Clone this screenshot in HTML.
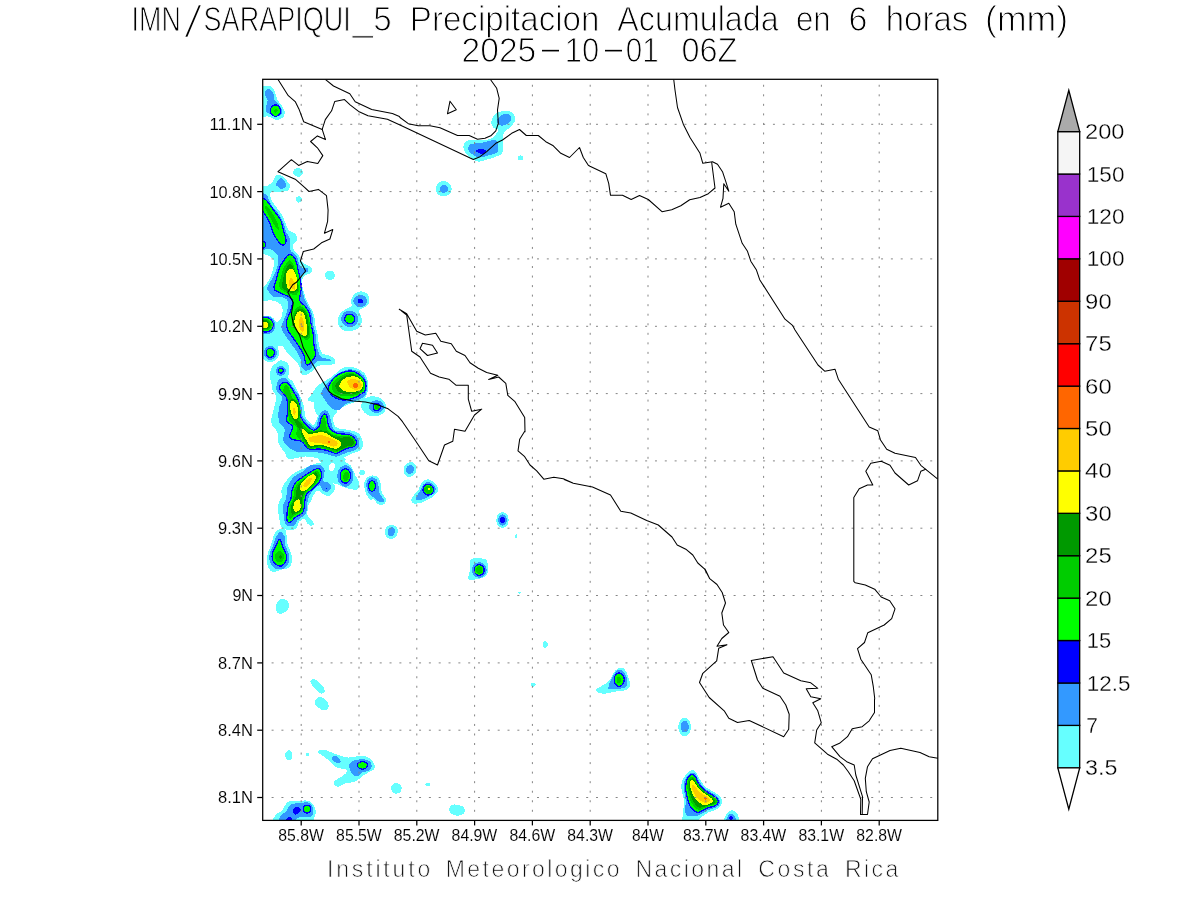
<!DOCTYPE html>
<html lang="es"><head><meta charset="utf-8">
<title>IMN/SARAPIQUI_5 Precipitacion Acumulada en 6 horas (mm)</title>
<style>
html,body{margin:0;padding:0;background:#fff;}
body{width:1200px;height:900px;overflow:hidden;}
svg{display:block;}
text{font-family:"Liberation Sans",sans-serif;fill:#000;}
.ttl{font-size:35px;stroke:#fff;stroke-width:1.05px;}
.ax{font-size:16.4px;stroke:#fff;stroke-width:.1px;}
.cb{font-size:21.2px;stroke:#fff;stroke-width:.3px;}
.ft{font-size:23px;fill:#111;stroke:#fff;stroke-width:.75px;}
.coast{fill:none;stroke:#000;stroke-width:1.05;stroke-linejoin:round;stroke-linecap:round;}
.grid{fill:none;stroke:#858585;stroke-width:1;}.gh{stroke-dasharray:2 7.83;}.gv{stroke-dasharray:2 7.54;}
.tick{stroke:#000;stroke-width:1.25;}
</style></head><body>
<svg width="1200" height="900" viewBox="0 0 1200 900">
<rect width="1200" height="900" fill="#fff"/>
<defs><clipPath id="fr"><rect x="262.7" y="79.3" width="675.0999999999999" height="741.1"/></clipPath></defs>
<g clip-path="url(#fr)" shape-rendering="crispEdges">
<g fill="#66ffff">
<path d="M261.9 86.3C265.2 86.2 265.9 85.9 267.6 86C269.2 86.2 270.7 85.8 271.9 86.9C273.2 88 274.2 90.6 275.1 92.6C275.9 94.6 275.9 96.8 277 98.8C278 100.9 280.1 103 281.4 105.1C282.6 107.2 284.1 109.5 284.5 111.4C284.9 113.3 284.6 115.1 283.9 116.4C283.1 117.7 281.5 118.7 280.1 119.2C278.7 119.7 277.2 119.8 275.7 119.6C274.2 119.3 272.7 118.2 271.3 117.7C270 117.2 269.1 116.5 267.6 116.4C266 116.3 265.2 116.8 261.9 117.1C258.6 117.3 250.2 123 247.9 118C245.6 112.9 245.6 92 247.9 86.7C250.2 81.4 258.6 86.4 261.9 86.3Z"/>
<path d="M302.8 172.3C302.8 173.1 302.5 174.2 301.9 174.9C301.4 175.6 300.4 176.2 299.5 176.5C298.6 176.7 297.5 176.7 296.6 176.5C295.7 176.2 294.7 175.6 294.2 174.9C293.6 174.2 293.3 173.1 293.3 172.3C293.3 171.4 293.6 170.4 294.2 169.7C294.7 169 295.7 168.4 296.6 168.1C297.5 167.8 298.6 167.8 299.5 168.1C300.4 168.4 301.4 169 301.9 169.7C302.5 170.4 302.8 171.4 302.8 172.3Z"/>
<path d="M302.1 199.5C302.1 200.1 301.8 200.8 301.5 201.3C301.1 201.8 300.5 202.3 299.9 202.4C299.3 202.6 298.5 202.6 298 202.4C297.4 202.3 296.8 201.8 296.4 201.3C296 200.8 295.8 200.1 295.8 199.5C295.8 198.8 296 198.1 296.4 197.6C296.8 197.1 297.4 196.7 298 196.5C298.5 196.3 299.3 196.3 299.9 196.5C300.5 196.7 301.1 197.1 301.5 197.6C301.8 198.1 302.1 198.8 302.1 199.5Z"/>
<path d="M335 275.4C335 276.3 334.6 277.4 334 278.1C333.4 278.9 332.4 279.5 331.5 279.8C330.6 280.1 329.3 280.1 328.4 279.8C327.5 279.5 326.5 278.9 325.9 278.1C325.3 277.4 324.9 276.3 324.9 275.4C324.9 274.5 325.3 273.4 325.9 272.7C326.5 271.9 327.5 271.3 328.4 271C329.3 270.7 330.6 270.7 331.5 271C332.4 271.3 333.4 271.9 334 272.7C334.6 273.4 335 274.5 335 275.4Z"/>
<path d="M261.9 185.5C265.2 185.5 265.8 186.1 267.6 185.5C269.3 184.8 271.3 183.2 272.6 181.7C273.8 180.2 274 177.8 275.1 176.7C276.1 175.5 277.4 174.7 278.8 174.8C280.3 174.9 282.3 175.9 283.9 177.3C285.4 178.7 287.3 181.7 288.3 182.9C289.3 184.2 289.8 183.9 289.9 185C290 186.2 289.9 188.7 288.9 189.8C287.9 190.9 286.7 191.2 283.9 191.5C281 191.9 274.2 191.1 271.9 191.9C269.6 192.7 269.7 194.3 270.1 196.3C270.4 198.3 271.9 200.9 273.8 203.8C275.7 206.8 279.4 210.5 281.4 213.9C283.3 217.2 284.5 221.2 285.8 223.9C287 226.7 287.5 228.7 288.9 230.2C290.3 231.7 292.6 231.7 293.9 232.7C295.3 233.8 296.6 235 297.1 236.5C297.5 237.9 297.2 240 296.4 241.5C295.7 243 293.1 243.8 292.7 245.3C292.2 246.7 292.9 248.6 293.9 250.3C295 252 297.8 253.6 298.9 255.3C300.1 257 299.8 258.9 300.8 260.3C301.9 261.8 303.6 263.1 305.2 264.1C306.8 265.1 309.1 265.7 310.2 266.6C311.4 267.6 312.1 268.6 312.1 269.7C312.1 270.9 311.4 272.6 310.2 273.5C309.1 274.5 306.6 274.2 305.2 275.4C303.8 276.5 302.1 278.1 301.7 280.4C301.3 282.7 302.5 287.2 302.9 289.2C303.4 291.2 303.7 290.9 304.2 292.5C304.7 294.1 305 296.7 305.8 298.8C306.6 300.9 307.6 302.5 309 305.1C310.3 307.7 312.9 311.2 314 314.5C315 317.8 314.6 321.7 315.3 325.2C315.9 328.6 317.1 331.9 317.8 335.2C318.4 338.6 318.3 342.2 319 345.3C319.7 348.3 320.5 351.7 322.2 353.4C323.8 355.1 327 354.4 329.1 355.3C331.2 356.2 333.9 357.6 334.7 359.1C335.5 360.5 335.6 363.1 334.1 364.1C332.5 365 328 364.4 325.3 364.7C322.6 365 320.1 364.8 317.8 366C315.5 367.1 313.6 370 311.5 371.6C309.4 373.2 307.1 375.2 305.2 375.4C303.4 375.6 301.5 374.5 300.4 372.9C299.4 371.2 300.2 367.8 298.9 365.3C297.6 362.8 294.7 360.1 292.7 357.8C290.6 355.5 288.7 354.2 286.4 351.5C284.1 348.8 281.6 343.8 278.8 341.5C276.1 339.2 272.9 338.8 270.1 337.7C267.2 336.7 265.6 336.1 261.9 335.2C258.2 334.4 250.2 357.6 247.9 332.6C245.6 307.7 245.6 210 247.9 185.5C250.2 160.9 258.6 185.5 261.9 185.5Z"/>
<path d="M261.9 313.2C265.6 313.5 267.7 313.2 270.1 314.1C272.5 315.1 275 317.1 276.3 318.9C277.7 320.7 278.2 323 278.2 325.2C278.2 327.4 277.7 330.2 276.3 332.1C275 334 272.5 335.6 270.1 336.5C267.7 337.3 265.6 336.9 261.9 337.1C258.2 337.3 250.2 341.9 247.9 337.7C245.6 333.6 245.6 316.4 247.9 312.3C250.2 308.3 258.2 312.9 261.9 313.2Z"/>
<path d="M279.1 352.8C279.1 354.6 278.4 356.8 277.4 358.3C276.3 359.8 274.5 361.2 272.9 361.7C271.2 362.3 269 362.3 267.3 361.7C265.6 361.2 263.8 359.8 262.8 358.3C261.7 356.8 261 354.6 261 352.8C261 350.9 261.7 348.7 262.8 347.2C263.8 345.8 265.6 344.4 267.3 343.8C269 343.3 271.2 343.3 272.9 343.8C274.5 344.4 276.3 345.8 277.4 347.2C278.4 348.7 279.1 350.9 279.1 352.8Z"/>
<path d="M261.9 335.2C265.6 336.1 267.7 336.7 270.1 337.7C272.5 338.8 274.9 340.2 276.3 341.5C277.8 342.7 279.3 343.8 278.8 345.3C278.4 346.7 276.7 349.9 273.8 350.3C271 350.7 266.2 348.5 261.9 347.8C257.6 347 250.2 348.5 247.9 346C245.6 343.5 245.6 334.4 247.9 332.6C250.2 330.8 258.2 334.4 261.9 335.2Z"/>
<path d="M267.6 334.2C269.7 334.1 277.6 338.1 280.1 340C282.6 341.9 283.4 344.7 282.4 345.5C281.3 346.3 276.4 345.8 273.8 345C271.3 344.2 268 342.3 266.9 340.5C265.9 338.7 265.4 334.3 267.6 334.2Z"/>
<path d="M289.4 371.4C289.4 373.1 288.7 375.1 287.6 376.5C286.5 377.9 284.7 379.2 283 379.7C281.2 380.2 279 380.2 277.2 379.7C275.5 379.2 273.7 377.9 272.6 376.5C271.5 375.1 270.8 373.1 270.8 371.4C270.8 369.6 271.5 367.6 272.6 366.2C273.7 364.8 275.5 363.5 277.2 363C279 362.5 281.2 362.5 283 363C284.7 363.5 286.5 364.8 287.6 366.2C288.7 367.6 289.4 369.6 289.4 371.4Z"/>
<path d="M360.2 291.3C362.3 291.1 365.2 291.9 366.7 293.2C368.3 294.4 369.3 296.8 369.5 298.8C369.7 300.8 369.1 303.5 368 305.1C366.9 306.7 364.5 307.3 362.9 308.2C361.4 309.2 358.9 309.4 358.6 310.7C358.2 312.1 360.5 314.4 361.1 316.4C361.6 318.4 362.2 320.7 361.7 322.7C361.2 324.6 359.8 326.9 357.9 328.3C356 329.7 352.9 330.9 350.4 331.2C347.9 331.5 344.9 331.2 342.9 330.2C340.9 329.2 339.3 327.2 338.5 325.2C337.6 323.2 337.3 320.5 337.8 318.3C338.4 316.1 339.9 313.7 341.6 312C343.3 310.3 346.2 309.3 347.9 308.2C349.6 307.2 351.1 307.1 351.7 305.7C352.2 304.4 350.6 301.9 351 300.1C351.4 298.2 352.6 295.9 354.2 294.4C355.7 292.9 358.1 291.5 360.2 291.3Z"/>
<path d="M309 398C310.5 396.5 314.2 388.8 317.8 385.4C321.3 382.1 326.1 380.8 330.3 377.9C334.5 375 339.1 369.6 342.9 367.8C346.6 366.1 349.4 366.4 352.9 367.2C356.5 368.1 361.7 370.3 364.2 372.9C366.7 375.5 367.4 379.8 368 382.9C368.5 386 368 389.3 367.6 391.7C367.2 394.1 366.4 395.9 365.5 397.5C364.5 399.1 363.4 400.6 361.7 401.3C360 402 358.1 401.2 355.4 401.9C352.7 402.7 348.5 404.4 345.4 405.7C342.2 406.9 339.1 409 336.6 409.5C334.1 409.9 332.2 408.5 330.3 408.2C328.4 407.9 326.4 407.6 325.3 407.6C324.1 407.5 324.5 407.9 323.4 407.9C322.4 407.9 320 408.5 319 407.6C318.1 406.7 319.5 403.7 317.8 402.6C316 401.4 309.9 402 308.3 400.7C306.8 399.3 308.6 394.8 308.7 394.4C308.8 393.9 307.5 399.5 309 398Z"/>
<path d="M315 400C318.1 398.2 331.4 401.1 335 403.3C338.6 405.6 337.9 411.1 336.7 413.3C335.4 415.6 330.8 416.5 327.5 416.7C324.2 416.8 318.8 416.9 316.7 414.2C314.6 411.4 311.9 401.8 315 400Z"/>
<path d="M386 408.2C385.7 410.1 384.4 412.3 382.8 413.7C381.1 415 378.4 416.1 376 416.3C373.6 416.6 370.6 416.1 368.4 415.2C366.1 414.2 363.9 412.4 362.7 410.6C361.5 408.8 360.9 406.4 361.2 404.4C361.5 402.5 362.8 400.3 364.5 399C366.1 397.6 368.8 396.5 371.2 396.3C373.6 396 376.7 396.5 378.9 397.5C381.1 398.4 383.4 400.2 384.5 402C385.7 403.8 386.3 406.2 386 408.2Z"/>
<path d="M280.7 360.3C283.1 360 286.4 361.6 287.9 363.5C289.4 365.3 289.5 369.3 289.5 371.6C289.5 373.9 287.4 375.6 287.9 377.3C288.4 378.9 291.1 379.6 292.7 381.7C294.2 383.7 295.7 387.2 297.1 389.8C298.4 392.5 299.7 394.8 300.8 397.5C302 400.3 303.2 403.1 304 406.3C304.7 409.6 304.4 414.5 305.2 417C306 419.5 307.7 420 309 421.4C310.2 422.7 311.5 425.4 312.7 425.1C314 424.9 315.5 422.4 316.5 420.1C317.6 417.8 318 413.3 319 411.3C320.1 409.4 321.3 408.8 322.8 408.2C324.2 407.6 326.1 407.5 327.8 407.6C329.5 407.7 331.6 408 332.8 408.8C334.1 409.7 335.3 410.9 335.3 412.6C335.3 414.3 332.8 416.6 332.8 418.9C332.8 421.2 334.1 424.7 335.3 426.4C336.6 428.1 337.8 428.3 340.4 428.9C342.9 429.5 347.3 429.3 350.4 430.2C353.5 431 357.1 431.8 359.2 433.9C361.3 436 362.7 440 362.9 442.7C363.2 445.4 362.9 448.2 360.4 450.3C357.9 452.3 350.8 453.6 347.9 455.3C345 456.9 342.4 458.6 342.9 460.3C343.3 462 348.3 462.8 350.4 465.3C352.5 467.8 354 472.4 355.4 475.4C356.9 478.3 358.8 480.6 359.2 482.9C359.6 485.2 359.4 488.1 357.9 489.2C356.5 490.2 352.9 489.6 350.4 489.2C347.9 488.7 345.2 487.7 342.9 486.7C340.6 485.6 337.8 485.6 336.6 482.9C335.3 480.2 336.4 473.7 335.3 470.3C334.3 467 332.8 464.5 330.3 462.8C327.8 461.1 322.4 461 320.3 460.3C318.2 459.6 320.3 459 317.8 458.4C315.3 457.8 310 456.4 305.2 456.5C300.4 456.6 292.2 459.7 288.9 459C285.5 458.4 286.8 455.3 285.1 452.8C283.5 450.3 280.1 447.3 278.8 444C277.6 440.6 278.8 436.2 277.6 432.7C276.3 429.1 271.9 426.6 271.3 422.6C270.7 418.7 273 413 273.8 408.8C274.7 404.6 276.5 400.7 276.3 397.5C276.1 394.4 273.3 392 272.6 390C271.8 388 272.4 387.4 271.9 385.4C271.5 383.4 270.4 380.2 270.1 377.9C269.7 375.6 269.4 373.7 270.1 371.6C270.7 369.5 272.1 367.2 273.8 365.3C275.6 363.5 278.4 360.6 280.7 360.3Z"/>
<path d="M314 464.1C316.9 463.2 320.5 462 322.8 462.8C325.1 463.6 327 466.6 327.8 469.1C328.6 471.6 327 475.6 327.8 477.9C328.6 480.2 331.6 481.2 332.8 482.9C334.1 484.6 335.8 485.8 335.3 487.9C334.9 490 332.4 494.4 330.3 495.4C328.2 496.5 324.9 495 322.8 494.2C320.7 493.3 319.4 490 317.8 490.4C316.1 490.8 314 494.6 312.7 496.7C311.5 498.8 310.9 501.8 310.2 503C309.6 504.2 309.4 502.8 309 503.8C308.6 504.8 307.9 506.7 307.7 508.8C307.5 510.9 307.1 514.5 307.7 516.3C308.3 518.2 310.4 518.8 311.5 520.1C312.5 521.4 314 522.9 314 523.9C314 524.8 312.5 525.8 311.5 525.8C310.4 525.8 308.9 525 307.7 523.9C306.6 522.7 306 519.2 304.6 518.8C303.1 518.5 300.4 520.3 298.9 522C297.5 523.7 297.9 527.6 295.8 528.9C293.7 530.1 288.7 529.7 286.4 529.5C284.1 529.3 283 528.6 282 527.6C280.9 526.7 280.6 526 280.1 523.9C279.6 521.8 279.3 517.8 278.8 515.1C278.4 512.4 277.4 510.1 277.6 507.6C277.8 505 279.4 501.8 280.1 500C280.8 498.2 281.8 498.3 282 496.7C282.2 495.1 281 492.5 281.4 490.4C281.7 488.3 282 486.9 283.9 484.1C285.8 481.4 289.1 476.8 292.7 474.1C296.2 471.4 301.7 469.5 305.2 467.8C308.8 466.2 311.1 464.9 314 464.1Z"/>
<path d="M320 457.5C323.8 456.8 338.8 456.8 343 457.5C347.2 458.2 345.5 460.2 345 461.5C344.5 462.8 341.2 463.6 340 465C338.8 466.4 338 467.9 337.5 470C337 472.1 336.6 475.3 337 477.5C337.4 479.7 340.2 481.8 340 483C339.8 484.2 337.2 484.5 336 484.5C334.8 484.5 334.2 483.4 333 483C331.8 482.6 330.3 482.3 329 482C327.7 481.7 325.8 482.5 325 481C324.2 479.5 324.2 475.4 324 473C323.8 470.6 324.7 468.4 324 466.5C323.3 464.6 320.7 463 320 461.5C319.3 460 316.2 458.2 320 457.5Z"/>
<path d="M364.8 472.6C364.8 473.1 364.6 473.8 364.3 474.2C364 474.7 363.4 475.1 362.9 475.2C362.4 475.4 361.7 475.4 361.2 475.2C360.7 475.1 360.2 474.7 359.8 474.2C359.5 473.8 359.3 473.1 359.3 472.6C359.3 472.1 359.5 471.4 359.8 471C360.2 470.5 360.7 470.1 361.2 470C361.7 469.8 362.4 469.8 362.9 470C363.4 470.1 364 470.5 364.3 471C364.6 471.4 364.8 472.1 364.8 472.6Z"/>
<path d="M364.2 485.4C364.1 482.6 364.7 480.2 366.1 478.5C367.4 476.8 370.3 475.5 372.4 475.4C374.5 475.3 377.2 476 378.6 477.9C380.1 479.7 380.6 484.1 381.2 486.7C381.7 489.2 380.8 490.8 381.8 492.9C382.7 495 386 498.2 386.8 499.2C387.6 500.2 387.2 498 386.8 498.8C386.4 499.5 385.6 502.8 384.3 503.8C382.9 504.7 380.5 505.3 378.6 504.4C376.8 503.6 374.1 499.4 373 498.8C371.8 498.1 372.8 501 371.7 500.5C370.7 499.9 368 497.9 366.7 495.4C365.5 492.9 364.3 488.2 364.2 485.4Z"/>
<path d="M277 530.1C278.6 529.1 282.3 528.5 283.9 528.9C285.4 529.3 285.9 530.4 286.4 532.7C286.9 535 286.2 539.1 287 542.7C287.8 546.3 290.6 550.9 291.4 554C292.2 557.1 292.4 559.2 292 561.5C291.6 563.8 290.7 566.4 288.9 567.8C287.1 569.2 283.7 569 281.4 569.7C279.1 570.4 277 571.7 275.1 571.8C273.2 571.9 271.4 571.8 270.1 570.3C268.7 568.8 267.3 565.5 266.9 562.8C266.5 560.1 266.8 557.1 267.6 554C268.3 550.9 270.3 547.1 271.3 544C272.4 540.8 272.9 537.5 273.8 535.2C274.8 532.9 275.3 531.2 277 530.1Z"/>
<path d="M329.7 495C329.7 495.3 329.5 495.6 329.3 495.9C329.1 496.1 328.7 496.3 328.4 496.4C328 496.5 327.6 496.5 327.2 496.4C326.9 496.3 326.5 496.1 326.3 495.9C326.1 495.6 325.9 495.3 325.9 495C325.9 494.7 326.1 494.4 326.3 494.1C326.5 493.9 326.9 493.7 327.2 493.6C327.6 493.5 328 493.5 328.4 493.6C328.7 493.7 329.1 493.9 329.3 494.1C329.5 494.4 329.7 494.7 329.7 495Z"/>
<path d="M397.5 532C397.5 533.4 397 535 396.3 536.1C395.5 537.2 394.3 538.2 393.1 538.6C392 539 390.4 539 389.3 538.6C388.1 538.2 386.8 537.2 386.1 536.1C385.4 535 384.9 533.4 384.9 532C384.9 530.7 385.4 529.1 386.1 528C386.8 526.9 388.1 525.9 389.3 525.5C390.4 525 392 525 393.1 525.5C394.3 525.9 395.5 526.9 396.3 528C397 529.1 397.5 530.7 397.5 532Z"/>
<path d="M288.9 605.5C288.9 606.7 288.4 608.3 287.7 609.3C287 610.3 285.7 611.3 284.6 611.7C283.4 612.1 281.8 612.1 280.7 611.7C279.5 611.3 278.3 610.3 277.5 609.3C276.8 608.3 276.3 606.7 276.3 605.5C276.3 604.2 276.8 602.7 277.5 601.6C278.3 600.6 279.5 599.6 280.7 599.3C281.8 598.9 283.4 598.9 284.6 599.3C285.7 599.6 287 600.6 287.7 601.6C288.4 602.7 288.9 604.2 288.9 605.5Z"/>
<path d="M491.3 123.3C491.2 121.3 491.9 117.8 493.3 115.8C494.8 113.9 497.5 112.5 500 111.7C502.5 110.8 506 110.3 508.3 110.8C510.7 111.4 513.1 113.3 514.2 115C515.3 116.7 515.6 118.9 515 120.8C514.4 122.8 512.6 124.7 510.8 126.7C509 128.6 505.4 130.3 504.2 132.5C502.9 134.7 503.6 136.8 503.3 140C503.1 143.2 503.3 149 502.5 151.7C501.7 154.3 500.7 154.6 498.3 155.8C496 157.1 491.7 158.2 488.3 159.2C485 160.1 481.1 161.8 478.3 161.7C475.6 161.5 473.8 159.7 471.7 158.3C469.6 156.9 467.2 155.3 465.8 153.3C464.4 151.4 463.2 148.8 463.3 146.7C463.5 144.6 464.4 141.9 466.7 140.8C468.9 139.7 472.8 140.3 476.7 140C480.6 139.7 486.8 140.1 490 139.2C493.2 138.2 494.4 135.7 495.8 134.2C497.2 132.6 498.6 131 498.3 130C498.1 129 495.3 129.4 494.2 128.3C493 127.2 491.5 125.4 491.3 123.3Z"/>
<path d="M523.3 157.8C523.3 158.3 523.1 158.9 522.8 159.3C522.5 159.7 521.9 160.1 521.4 160.2C520.8 160.4 520.2 160.4 519.6 160.2C519.1 160.1 518.5 159.7 518.2 159.3C517.9 158.9 517.7 158.3 517.7 157.8C517.7 157.3 517.9 156.8 518.2 156.4C518.5 156 519.1 155.6 519.6 155.5C520.2 155.3 520.8 155.3 521.4 155.5C521.9 155.6 522.5 156 522.8 156.4C523.1 156.8 523.3 157.3 523.3 157.8Z"/>
<path d="M451.7 188.8C451.7 190.3 451.1 192.1 450.1 193.3C449.2 194.6 447.6 195.7 446.1 196.1C444.6 196.6 442.7 196.6 441.2 196.1C439.7 195.7 438.1 194.6 437.2 193.3C436.3 192.1 435.7 190.3 435.7 188.8C435.7 187.3 436.3 185.5 437.2 184.3C438.1 183.1 439.7 182 441.2 181.5C442.7 181.1 444.6 181.1 446.1 181.5C447.6 182 449.2 183.1 450.1 184.3C451.1 185.5 451.7 187.3 451.7 188.8Z"/>
<path d="M282.5 599.2C284.4 599.3 287.6 603.9 288.3 605.8C289 607.8 288.1 609.5 286.7 610.8C285.3 612.2 281.8 613.8 280 613.8C278.2 613.8 276.7 612.3 276.2 610.8C275.6 609.4 275.6 606.9 276.7 605C277.7 603.1 280.6 599 282.5 599.2Z"/>
<path d="M312.5 679.2C313.7 679 315.6 679.3 317.5 680.8C319.4 682.4 323.1 686.4 324.2 688.3C325.3 690.3 324.9 691.7 324.2 692.5C323.5 693.3 321.8 694.3 320 693.3C318.2 692.4 314.9 688.6 313.3 686.7C311.7 684.7 310.5 682.9 310.3 681.7C310.2 680.4 311.3 679.3 312.5 679.2Z"/>
<path d="M317.5 697.5C318.8 696.8 320.7 696.5 322.5 697.5C324.3 698.5 327.5 701.4 328.3 703.3C329.2 705.3 328.6 708.1 327.5 709.2C326.4 710.2 323.6 710.4 321.7 709.7C319.7 709 317 706.3 315.8 705C314.7 703.7 314.4 702.9 314.7 701.7C314.9 700.4 316.2 698.2 317.5 697.5Z"/>
<path d="M275 823.3C269.3 821.9 274.7 817.1 275.8 815C276.9 812.9 279.6 813.1 281.7 810.8C283.8 808.6 285.6 803.3 288.3 801.7C291.1 800 295 801 298.3 800.8C301.7 800.7 305.8 800.1 308.3 800.8C310.8 801.5 312.1 803.2 313.3 805C314.6 806.8 315.7 809.6 315.8 811.7C316 813.8 315.1 815.6 314.2 817.5C313.2 819.4 316.5 822.4 310 823.3C303.5 824.3 280.7 824.7 275 823.3Z"/>
<path d="M292.5 755.3C292.5 756.3 292.2 757.5 291.8 758.3C291.4 759.1 290.6 759.8 290 760.1C289.3 760.4 288.4 760.4 287.7 760.1C287 759.8 286.3 759.1 285.9 758.3C285.4 757.5 285.2 756.3 285.2 755.3C285.2 754.4 285.4 753.2 285.9 752.4C286.3 751.6 287 750.9 287.7 750.6C288.4 750.3 289.3 750.3 290 750.6C290.6 750.9 291.4 751.6 291.8 752.4C292.2 753.2 292.5 754.4 292.5 755.3Z"/>
<path d="M309.3 754.2C309.3 754.5 309.2 754.9 309 755.1C308.8 755.4 308.4 755.7 308.1 755.8C307.7 755.9 307.3 755.9 306.9 755.8C306.6 755.7 306.2 755.4 306 755.1C305.8 754.9 305.7 754.5 305.7 754.2C305.7 753.8 305.8 753.5 306 753.2C306.2 752.9 306.6 752.7 306.9 752.6C307.3 752.5 307.7 752.5 308.1 752.6C308.4 752.7 308.8 752.9 309 753.2C309.2 753.5 309.3 753.8 309.3 754.2Z"/>
<path d="M319.2 750C320.3 749.6 321.8 749.2 325 750C328.2 750.8 334.4 753.8 338.3 755C342.2 756.2 344.4 757.4 348.3 757.5C352.2 757.6 358.1 755.7 361.7 755.8C365.3 756 367.9 756.9 370 758.3C372.1 759.7 373.5 762.4 374.2 764.2C374.9 766 375.1 767.8 374.2 769.2C373.2 770.6 370.4 771.2 368.3 772.5C366.2 773.8 363.9 775.1 361.7 776.7C359.4 778.2 357.8 780.6 355 781.7C352.2 782.8 347.8 782.5 345 783.3C342.2 784.2 340.1 786.4 338.3 786.7C336.6 786.9 335.3 786 334.7 785C334.1 784 333.8 782.1 334.7 780.8C335.6 779.6 338.1 778.8 340 777.5C341.9 776.2 344.9 774.7 345.8 773.3C346.8 771.9 347.4 770.1 345.8 769.2C344.3 768.2 339.6 769 336.7 767.5C333.8 766 330.8 762.1 328.3 760C325.8 757.9 323.3 756.2 321.7 755C320 753.8 318.8 753.3 318.3 752.5C317.9 751.7 318.1 750.4 319.2 750Z"/>
<path d="M401.7 788.3C401.7 789.4 401.3 790.6 400.6 791.5C400 792.3 399 793.1 398 793.4C397 793.7 395.7 793.7 394.7 793.4C393.7 793.1 392.6 792.3 392 791.5C391.4 790.6 391 789.4 391 788.3C391 787.3 391.4 786 392 785.2C392.6 784.4 393.7 783.6 394.7 783.3C395.7 782.9 397 782.9 398 783.3C399 783.6 400 784.4 400.6 785.2C401.3 786 401.7 787.3 401.7 788.3Z"/>
<path d="M430.3 784.7C430.3 785 430.1 785.4 429.9 785.6C429.6 785.9 429.1 786.2 428.6 786.3C428.1 786.4 427.5 786.4 427.1 786.3C426.6 786.2 426.1 785.9 425.8 785.6C425.5 785.4 425.3 785 425.3 784.7C425.3 784.3 425.5 784 425.8 783.7C426.1 783.4 426.6 783.2 427.1 783.1C427.5 783 428.1 783 428.6 783.1C429.1 783.2 429.6 783.4 429.9 783.7C430.1 784 430.3 784.3 430.3 784.7Z"/>
<path d="M459.2 809.5C459.2 810.5 458.8 811.6 458.2 812.4C457.6 813.2 456.6 814 455.7 814.3C454.8 814.6 453.6 814.6 452.6 814.3C451.7 814 450.7 813.2 450.1 812.4C449.5 811.6 449.2 810.5 449.2 809.5C449.2 808.5 449.5 807.4 450.1 806.6C450.7 805.8 451.7 805 452.6 804.7C453.6 804.4 454.8 804.4 455.7 804.7C456.6 805 457.6 805.8 458.2 806.6C458.8 807.4 459.2 808.5 459.2 809.5Z"/>
<path d="M465 810.3C465 811.4 464.4 812.6 463.6 813.5C462.7 814.3 461.2 815.1 459.8 815.4C458.4 815.7 456.6 815.7 455.2 815.4C453.8 815.1 452.3 814.3 451.4 813.5C450.6 812.6 450 811.4 450 810.3C450 809.3 450.6 808 451.4 807.2C452.3 806.4 453.8 805.6 455.2 805.3C456.6 804.9 458.4 804.9 459.8 805.3C461.2 805.6 462.7 806.4 463.6 807.2C464.4 808 465 809.3 465 810.3Z"/>
<path d="M416.1 471.4C415.6 472.8 414.6 474.3 413.6 475.2C412.5 476.1 411 476.8 409.8 476.9C408.5 477 407 476.5 406 475.7C405 475 404.1 473.5 403.8 472.2C403.5 470.8 403.5 469 403.9 467.6C404.4 466.2 405.4 464.7 406.4 463.8C407.5 462.9 409 462.2 410.2 462.1C411.5 462 413 462.5 414 463.3C415 464 415.9 465.5 416.2 466.8C416.5 468.2 416.5 470 416.1 471.4Z"/>
<path d="M428.3 479.2C430.8 479.6 435.1 482.9 436.7 485C438.2 487.1 438.3 489.6 437.5 491.7C436.7 493.8 434.3 495.7 431.7 497.5C429 499.3 424.7 501.5 421.7 502.5C418.6 503.5 415 504 413.3 503.3C411.7 502.6 410.8 500.6 411.7 498.3C412.5 496.1 416.7 492.6 418.3 490C420 487.4 420 484.3 421.7 482.5C423.3 480.7 425.8 478.8 428.3 479.2Z"/>
<path d="M397.2 534.1C396.6 535.4 395.6 536.7 394.5 537.5C393.3 538.2 391.8 538.6 390.5 538.6C389.3 538.5 387.9 537.9 386.9 537C386 536.2 385.3 534.8 385 533.5C384.8 532.2 385 530.5 385.5 529.2C386 527.9 387.1 526.6 388.2 525.9C389.3 525.1 390.9 524.7 392.1 524.8C393.4 524.8 394.8 525.4 395.7 526.3C396.7 527.1 397.4 528.6 397.7 529.9C397.9 531.2 397.7 532.9 397.2 534.1Z"/>
<path d="M508.7 520C508.7 521.5 508.2 523.4 507.5 524.6C506.8 525.8 505.6 527 504.4 527.4C503.3 527.9 501.7 527.9 500.6 527.4C499.4 527 498.2 525.8 497.5 524.6C496.8 523.4 496.3 521.5 496.3 520C496.3 518.5 496.8 516.6 497.5 515.4C498.2 514.2 499.4 513 500.6 512.6C501.7 512.1 503.3 512.1 504.4 512.6C505.6 513 506.8 514.2 507.5 515.4C508.2 516.6 508.7 518.5 508.7 520Z"/>
<path d="M517.3 536.2C517.3 536.6 517.2 537 517.1 537.3C517 537.7 516.7 537.9 516.5 538.1C516.3 538.2 516 538.2 515.8 538.1C515.6 537.9 515.4 537.7 515.2 537.3C515.1 537 515 536.6 515 536.2C515 535.8 515.1 535.3 515.2 535C515.4 534.7 515.6 534.4 515.8 534.3C516 534.1 516.3 534.1 516.5 534.3C516.7 534.4 517 534.7 517.1 535C517.2 535.3 517.3 535.8 517.3 536.2Z"/>
<path d="M470.8 559.2C473.3 557.4 482.2 558.2 485 559.2C487.8 560.1 487.4 562.6 487.8 565C488.2 567.4 488.2 571.2 487.5 573.3C486.8 575.4 485.7 576.4 483.3 577.5C481 578.6 475.8 579.5 473.3 579.7C470.8 579.9 468.9 580.3 468.3 578.7C467.8 577.1 469.6 573.2 470 570C470.4 566.8 468.3 561 470.8 559.2Z"/>
<path d="M520.7 592.8C520.7 593 520.6 593.2 520.4 593.3C520.3 593.5 520.1 593.6 519.9 593.6C519.6 593.7 519.4 593.7 519.1 593.6C518.9 593.6 518.7 593.5 518.6 593.3C518.4 593.2 518.3 593 518.3 592.8C518.3 592.7 518.4 592.5 518.6 592.3C518.7 592.2 518.9 592.1 519.1 592C519.4 592 519.6 592 519.9 592C520.1 592.1 520.3 592.2 520.4 592.3C520.6 592.5 520.7 592.7 520.7 592.8Z"/>
<path d="M547.7 644.5C547.7 645.2 547.5 645.9 547.2 646.5C547 647 546.5 647.5 546.1 647.7C545.6 647.9 545 647.9 544.6 647.7C544.2 647.5 543.7 647 543.4 646.5C543.2 645.9 543 645.2 543 644.5C543 643.8 543.2 643.1 543.4 642.5C543.7 642 544.2 641.5 544.6 641.3C545 641.1 545.6 641.1 546.1 641.3C546.5 641.5 547 642 547.2 642.5C547.5 643.1 547.7 643.8 547.7 644.5Z"/>
<path d="M535.7 684.7C535.7 685.1 535.5 685.5 535.2 685.8C535 686.2 534.5 686.4 534.1 686.6C533.6 686.7 533 686.7 532.6 686.6C532.2 686.4 531.7 686.2 531.4 685.8C531.2 685.5 531 685.1 531 684.7C531 684.3 531.2 683.8 531.4 683.5C531.7 683.2 532.2 682.9 532.6 682.8C533 682.6 533.6 682.6 534.1 682.8C534.5 682.9 535 683.2 535.2 683.5C535.5 683.8 535.7 684.3 535.7 684.7Z"/>
<path d="M596.3 689.2C597.3 687.9 601.1 686.5 603.3 685C605.6 683.5 608.1 682.4 610 680C611.9 677.6 613.2 672.9 615 670.8C616.8 668.8 619 667.5 620.8 667.5C622.6 667.5 624.4 668.8 625.8 670.8C627.2 672.9 628.5 677.5 629.2 680C629.9 682.5 630.6 684.2 630 685.8C629.4 687.5 628.3 689 625.8 690C623.3 691 618.5 691.1 615 691.7C611.5 692.3 607.9 693.5 605 693.7C602.1 693.8 598.9 693.2 597.5 692.5C596.1 691.8 595.4 690.4 596.3 689.2Z"/>
<path d="M691 727C691 728.8 690.5 730.9 689.8 732.4C689.1 733.8 687.8 735.2 686.6 735.7C685.4 736.3 683.9 736.3 682.7 735.7C681.5 735.2 680.3 733.8 679.5 732.4C678.8 730.9 678.3 728.8 678.3 727C678.3 725.2 678.8 723.1 679.5 721.6C680.3 720.2 681.5 718.8 682.7 718.3C683.9 717.7 685.4 717.7 686.6 718.3C687.8 718.8 689.1 720.2 689.8 721.6C690.5 723.1 691 725.2 691 727Z"/>
<path d="M692.1 770.1C693.8 769.9 695.1 770.9 696.5 772.6C697.8 774.3 698.6 777.6 700.3 780.1C701.9 782.6 704 785.6 706.5 787.7C709 789.7 712.9 791 715.3 792.7C717.7 794.4 719.9 795.8 721 797.7C722 799.6 722.1 802.1 721.6 804C721.1 805.9 719.9 807.6 717.8 809C715.7 810.4 712 810.7 709 812.1C706.1 813.6 702.6 816.1 700.3 817.8C697.9 819.5 698.1 821.4 695.2 822.2C692.4 822.9 685.3 824.2 683.3 822.2C681.3 820.2 683.2 813.9 683.3 810.3C683.4 806.6 684.2 803.8 683.9 800.2C683.6 796.7 681.7 792.1 681.4 788.9C681.1 785.8 681.2 783.9 682.1 781.4C682.9 778.9 684.8 775.7 686.4 773.8C688.1 772 690.4 770.3 692.1 770.1Z"/>
<path d="M724.1 822.2C722.1 820.8 725.4 816 726.6 814C727.9 812 730 810.5 731.6 810.3C733.3 810 735.5 810.8 736.7 812.8C737.8 814.7 740.6 820.6 738.5 822.2C736.4 823.7 726.1 823.5 724.1 822.2Z"/>
<path d="M750.8 820.3C750.8 820.4 750.7 820.6 750.4 820.7C750.1 820.9 749.7 821 749.3 821C748.9 821.1 748.3 821.1 747.9 821C747.5 821 747 820.9 746.7 820.7C746.5 820.6 746.3 820.4 746.3 820.3C746.3 820.1 746.5 820 746.7 819.9C747 819.7 747.5 819.6 747.9 819.6C748.3 819.5 748.9 819.5 749.3 819.6C749.7 819.6 750.1 819.7 750.4 819.9C750.7 820 750.8 820.1 750.8 820.3Z"/>
</g>
<g fill="#ffffff">
<path d="M261.9 254.1C265.2 254.6 265.6 254.3 267.6 255.3C269.5 256.4 272.9 257.8 273.8 260.3C274.7 262.8 273.7 267 272.8 270.4C272 273.7 270.6 277.4 268.8 280.4C267 283.4 265.4 285.3 261.9 288.2C258.4 291.1 250.2 303.7 247.9 297.7C245.6 291.7 245.6 259.5 247.9 252.2C250.2 244.9 258.6 253.5 261.9 254.1Z"/>
<path d="M261.9 300.7C266.2 300.7 270.7 300.1 273.8 300.7C277 301.3 279.3 302.9 280.7 304.5C282.2 306 282.5 307.9 282.6 310.1C282.7 312.3 282.3 315.6 281.4 317.6C280.4 319.7 278.1 322.1 277 322.4C275.8 322.7 275.5 320.5 274.5 319.5C273.4 318.5 272.8 317 270.7 316.4C268.6 315.8 265.7 316 261.9 315.8C258.1 315.5 250.2 317.7 247.9 315.2C245.6 312.6 245.6 303.1 247.9 300.7C250.2 298.3 257.6 300.7 261.9 300.7Z"/>
<path d="M334.8 467.7C334.6 468.5 334.2 469.3 333.7 469.9C333.2 470.4 332.5 470.8 331.9 470.9C331.3 471 330.7 470.8 330.2 470.5C329.7 470.1 329.3 469.4 329.1 468.7C329 468 329 467 329.2 466.3C329.4 465.5 329.8 464.7 330.3 464.1C330.8 463.6 331.5 463.2 332.1 463.1C332.7 463 333.3 463.2 333.8 463.5C334.3 463.9 334.7 464.6 334.9 465.3C335 466 335 467 334.8 467.7Z"/>
</g>
<g fill="#3399ff">
<path d="M265 92.6C265.3 91.4 266.2 90 266.9 89.4C267.7 88.8 268.5 88.6 269.4 89.1C270.4 89.5 271.8 90.9 272.6 91.9C273.3 92.9 273.5 93.8 273.8 95.1C274.1 96.3 273.6 97.9 274.5 99.5C275.3 101 277.6 102.7 278.8 104.5C280.1 106.3 281.6 108.5 282 110.1C282.4 111.8 282.1 113.5 281.4 114.5C280.6 115.6 278.8 116.2 277.6 116.4C276.3 116.6 275.3 116.3 273.8 115.8C272.4 115.3 270.2 114 268.8 113.3C267.4 112.6 266.1 112.6 265.7 111.4C265.3 110.3 266 108.3 266.3 106.4C266.6 104.5 267.7 101.8 267.6 100.1C267.4 98.4 266.1 97.6 265.7 96.3C265.3 95.1 264.8 93.7 265 92.6Z"/>
<path d="M276.1 185.5C276 184.7 276.5 182.8 277 181.7C277.5 180.6 278.3 179.5 279.1 178.9C279.9 178.4 281 178.1 282 178.6C283 179 284.3 180.3 285.1 181.7C286 183.1 286.8 186.3 287 186.7C287.3 187.2 287 184.2 286.6 184.4C286.3 184.6 285.9 187.1 284.9 187.8C283.9 188.5 282 189 280.7 188.8C279.5 188.5 278.1 186.8 277.3 186.3C276.6 185.7 276.2 186.2 276.1 185.5Z"/>
<path d="M261.9 192.3C265.2 194 266 194.2 267.6 196.3C269.1 198.5 269.4 202.2 271.3 205.1C273.2 208 276.8 210.8 278.8 213.9C280.9 217 282.6 220.8 283.9 223.9C285.1 227.1 285.3 230.2 286.4 232.7C287.4 235.2 289.6 236.9 290.1 239C290.7 241.1 289.3 243.2 289.5 245.3C289.7 247.4 290.1 249.7 291.4 251.5C292.7 253.4 295.7 254.3 297.1 256.6C298.4 258.9 298.5 263.5 299.6 265.4C300.6 267.2 302 267.3 303.3 267.9C304.7 268.4 306.9 268 307.7 268.5C308.6 269 308.8 270.3 308.3 271C307.9 271.7 306.5 272.2 305.2 272.9C304 273.6 301.7 274.1 300.8 275.4C300 276.7 300 278.1 300.2 280.4C300.3 282.7 301.2 287.2 301.7 289.2C302.2 291.2 302.7 291.1 303.1 292.5C303.5 293.9 303.2 295.5 304 297.6C304.7 299.6 306.4 302.4 307.7 305.1C309.1 307.8 311.2 310.5 312.1 313.9C313.1 317.2 312.7 321.6 313.4 325.2C314 328.7 315.4 332.1 315.9 335.2C316.4 338.3 316 340.9 316.5 344C317 347.1 318 351.7 319 354C320.1 356.3 321 357 322.8 357.8C324.6 358.6 328.5 358.5 329.7 359.1C330.8 359.6 331.3 360.9 329.7 361.2C328.1 361.5 322.7 360.4 320.3 360.7C317.9 361 316.9 361.7 315.3 363.1C313.6 364.5 311.9 367.8 310.2 369.1C308.6 370.4 306.7 371 305.2 370.6C303.7 370.2 302.2 368.3 301.4 366.6C300.7 364.9 301.4 362.6 300.8 360.3C300.2 358 299.2 355.5 297.7 352.8C296.1 350.1 293.5 346.9 291.4 344C289.3 341.1 286.8 337.9 285.1 335.2C283.5 332.5 281.7 330 281.4 327.7C281 325.4 282.3 324.1 283.2 321.4C284.2 318.7 286.2 314.5 287 311.4C287.8 308.2 288.8 304.9 288.3 302.6C287.7 300.3 286.5 298.6 283.9 297.6C281.3 296.5 275.3 297.6 272.6 296.3C269.9 295 268.6 291 267.6 290C266.5 289 266.3 291.4 266.5 290.5C266.8 289.5 267.6 286.7 268.8 284.2C270 281.7 272.4 278.5 273.8 275.4C275.3 272.3 277 268.7 277.6 265.4C278.2 262 278.8 258 277.6 255.3C276.3 252.6 272.7 249.9 270.1 249C267.4 248.2 265.6 249.9 261.9 250.3C258.2 250.7 250.2 262.2 247.9 251.6C245.6 240.9 245.6 196.2 247.9 186.3C250.2 176.4 258.6 190.6 261.9 192.3Z"/>
<path d="M261.9 315.8C265.4 316 266.8 315.6 268.8 316.4C270.8 317.1 272.8 318.7 273.8 320.1C274.9 321.6 275.1 323.4 275.1 325.2C275.1 326.9 274.9 329.4 273.8 330.8C272.8 332.3 270.8 333.4 268.8 334C266.8 334.5 265.4 334 261.9 334C258.4 334 250.2 337.1 247.9 334C245.6 330.8 245.6 318 247.9 315C250.2 312 258.4 315.5 261.9 315.8Z"/>
<path d="M276.8 352.8C276.8 354.2 276.3 355.8 275.6 356.9C274.8 358 273.5 359 272.3 359.5C271.1 359.9 269.5 359.9 268.3 359.5C267.1 359 265.8 358 265 356.9C264.3 355.8 263.8 354.2 263.8 352.8C263.8 351.4 264.3 349.8 265 348.7C265.8 347.5 267.1 346.5 268.3 346.1C269.5 345.7 271.1 345.7 272.3 346.1C273.5 346.5 274.8 347.5 275.6 348.7C276.3 349.8 276.8 351.4 276.8 352.8Z"/>
<path d="M285.8 371C285.8 371.9 285.4 373 284.8 373.8C284.2 374.5 283.2 375.2 282.3 375.5C281.3 375.8 280.1 375.8 279.2 375.5C278.2 375.2 277.2 374.5 276.7 373.8C276.1 373 275.7 371.9 275.7 371C275.7 370 276.1 368.9 276.7 368.2C277.2 367.4 278.2 366.7 279.2 366.4C280.1 366.2 281.3 366.2 282.3 366.4C283.2 366.7 284.2 367.4 284.8 368.2C285.4 368.9 285.8 370 285.8 371Z"/>
<path d="M358.3 318.9C358.3 320.5 357.7 322.4 356.7 323.8C355.7 325.1 354 326.3 352.4 326.8C350.8 327.3 348.7 327.3 347.1 326.8C345.5 326.3 343.8 325.1 342.9 323.8C341.9 322.4 341.2 320.5 341.2 318.9C341.2 317.3 341.9 315.3 342.9 314C343.8 312.7 345.5 311.5 347.1 311C348.7 310.5 350.8 310.5 352.4 311C354 311.5 355.7 312.7 356.7 314C357.7 315.3 358.3 317.3 358.3 318.9Z"/>
<path d="M367.1 301.1C367.1 302.2 366.6 303.7 365.8 304.6C365 305.6 363.6 306.4 362.3 306.8C361 307.2 359.3 307.2 358.1 306.8C356.8 306.4 355.4 305.6 354.6 304.6C353.8 303.7 353.3 302.2 353.3 301.1C353.3 299.9 353.8 298.5 354.6 297.5C355.4 296.6 356.8 295.7 358.1 295.3C359.3 295 361 295 362.3 295.3C363.6 295.7 365 296.6 365.8 297.5C366.6 298.5 367.1 299.9 367.1 301.1Z"/>
<path d="M320.3 394.5C321 393 322.8 388.6 325.3 385.4C327.8 382.2 331.8 378 335.3 375.4C338.9 372.8 343.3 370.6 346.6 369.7C350 368.9 352.5 369.3 355.4 370.4C358.3 371.4 362.2 373.5 364.2 376C366.2 378.5 367 382.6 367.3 385.4C367.7 388.2 366.6 391.1 366.1 392.9C365.6 394.8 366.2 394.9 364.5 396.3C362.7 397.6 358.6 399.6 355.4 400.9C352.2 402.2 348.1 402.6 345.4 404.1C342.7 405.5 341.6 408.9 339.4 409.7C337.1 410.5 334 410.1 331.8 408.8C329.7 407.6 328.3 404.8 326.5 402.3C324.7 399.8 322.1 395.3 321 394C320 392.7 319.6 395.9 320.3 394.5Z"/>
<path d="M384 406.7C384 407.9 383.5 409.4 382.6 410.4C381.7 411.4 380.2 412.3 378.8 412.7C377.4 413 375.6 413 374.2 412.7C372.8 412.3 371.3 411.4 370.4 410.4C369.5 409.4 369 407.9 369 406.7C369 405.5 369.5 404 370.4 403C371.3 402 372.8 401.1 374.2 400.7C375.6 400.3 377.4 400.3 378.8 400.7C380.2 401.1 381.7 402 382.6 403C383.5 404 384 405.5 384 406.7Z"/>
<path d="M282 378.1C283.5 377.9 285.5 378.1 287 379.1C288.5 380.1 289.4 382.3 290.8 384.2C292.1 386 293.9 388.6 295.2 390.2C296.4 391.8 297.6 392.5 298.3 393.8C299 395 299 395.6 299.6 397.5C300.1 399.4 301 402.1 301.4 405.1C301.9 408 301.4 412.6 302.1 415.1C302.7 417.6 303.8 418.5 305.2 420.1C306.6 421.8 308.6 423.9 310.2 425.1C311.9 426.4 314 428.3 315.3 427.7C316.5 427 317 423.6 317.8 421.4C318.5 419.2 318.7 416.3 319.6 414.5C320.6 412.7 322.1 411.2 323.4 410.7C324.8 410.2 326.7 410.2 327.8 411.3C329 412.5 329.6 415.1 330.3 417.6C331 420.1 331.4 424.2 332.2 426.4C333 428.6 333.6 430 335.3 430.8C337.1 431.6 340.4 431.1 342.9 431.4C345.4 431.7 348.1 431.8 350.4 432.7C352.7 433.5 355.2 434.7 356.7 436.4C358.1 438.2 359.2 441.3 359.2 443.3C359.2 445.4 358.8 447.4 356.7 449C354.6 450.6 350 451.5 346.6 452.8C343.3 454 339.3 456.1 336.6 456.5C333.9 456.9 332.8 455.9 330.3 455.3C327.8 454.6 325.1 453.3 321.5 452.8C318 452.2 313.2 452.3 309 452.1C304.8 451.9 300 452.4 296.4 451.5C292.9 450.6 289.8 448.4 287.6 446.5C285.4 444.6 283.8 443.1 283.2 440.2C282.7 437.3 285.2 432.1 284.5 428.9C283.8 425.8 279.8 424.7 278.8 421.4C277.9 418 278.3 412.8 278.8 408.8C279.4 404.9 282.4 400.7 282 397.5C281.6 394.4 277.2 392 276.3 390C275.4 388 276.3 387 276.6 385.4C276.9 383.9 277.3 381.9 278.2 380.6C279.1 379.4 280.5 378.4 282 378.1Z"/>
<path d="M310.2 465.3C313.2 464.3 317.9 464.5 320.3 465.3C322.7 466.2 324.1 467.8 324.7 470.3C325.2 472.8 322.7 478.3 323.4 480.4C324.1 482.5 327.8 481.6 329.1 482.9C330.3 484.1 331.2 486.4 330.9 487.9C330.7 489.4 329.2 491.3 327.8 491.7C326.4 492.1 324.2 491.5 322.8 490.4C321.3 489.4 321.1 484.8 319 485.4C316.9 486 312.2 491.3 310.2 494.2C308.2 497.1 307.7 501.5 307.1 503C306.5 504.5 306.5 502.4 306.5 503.2C306.5 503.9 307.3 505.7 307.1 507.6C306.9 509.4 306.8 512.4 305.2 514.5C303.6 516.5 299.6 518.2 297.7 520.1C295.8 522 295.8 524.9 293.9 525.8C292 526.6 288.1 526.5 286.4 525.1C284.7 523.8 284.4 520.9 283.9 517.6C283.3 514.2 283 507.9 283.2 505C283.5 502.2 284.6 501.9 285.1 500.5C285.6 499.1 286 499 286.4 496.7C286.8 494.4 286.4 490 287.6 486.7C288.9 483.3 291.4 479.1 293.9 476.6C296.4 474.1 300 473.5 302.7 471.6C305.4 469.7 307.3 466.4 310.2 465.3Z"/>
<path d="M353.5 476C353.5 478.1 352.9 480.6 352 482.3C351 483.9 349.4 485.5 347.9 486.1C346.4 486.8 344.4 486.8 342.9 486.1C341.3 485.5 339.7 483.9 338.8 482.3C337.8 480.6 337.2 478.1 337.2 476C337.2 473.9 337.8 471.4 338.8 469.7C339.7 468 341.3 466.5 342.9 465.8C344.4 465.2 346.4 465.2 347.9 465.8C349.4 466.5 351 468 352 469.7C352.9 471.4 353.5 473.9 353.5 476Z"/>
<path d="M366.1 485.4C366 483.1 366.9 480.5 368 479.1C369 477.8 370.9 477.1 372.4 477.2C373.8 477.3 375.7 478.2 376.8 479.7C377.8 481.3 378.3 484.7 378.6 486.7C379 488.6 378.1 490 378.6 491.7C379.2 493.3 380.8 495.2 381.8 496.7C382.7 498.2 383.8 499.8 384.3 500.5C384.7 501.1 384.7 500.3 384.5 500.6C384.3 501 384 502.1 383 502.3C382.1 502.4 380.1 502.2 378.6 501.5C377.2 500.8 375.9 499.4 374.2 497.9C372.6 496.5 370 495 368.6 492.9C367.2 490.8 366.2 487.7 366.1 485.4Z"/>
<path d="M280.1 532C281.6 531.8 283.7 534.2 284.5 536.4C285.3 538.6 284.4 542.3 285.1 545.2C285.9 548.1 288.3 551.1 288.9 554C289.5 556.9 289.7 560.4 288.9 562.8C288.1 565.2 286 567.4 283.9 568.4C281.8 569.5 278.5 569.8 276.3 569.1C274.1 568.3 271.8 566.3 270.7 564C269.5 561.7 269.1 558.2 269.4 555.3C269.7 552.3 271.5 549.4 272.6 546.5C273.6 543.5 274.5 540.1 275.7 537.7C277 535.3 278.6 532.2 280.1 532Z"/>
<path d="M394.7 532C394.7 532.9 394.4 533.9 394 534.6C393.6 535.3 392.9 535.9 392.3 536.2C391.6 536.5 390.8 536.5 390.1 536.2C389.5 535.9 388.8 535.3 388.3 534.6C387.9 533.9 387.7 532.9 387.7 532C387.7 531.2 387.9 530.1 388.3 529.4C388.8 528.8 389.5 528.1 390.1 527.9C390.8 527.6 391.6 527.6 392.3 527.9C392.9 528.1 393.6 528.8 394 529.4C394.4 530.1 394.7 531.2 394.7 532Z"/>
<path d="M510.9 116C511.4 116.9 511.5 118.3 511.1 119.4C510.7 120.6 509.8 122 508.7 123C507.6 124 505.9 124.9 504.5 125.3C503.1 125.7 501.4 125.7 500.2 125.4C499 125.1 497.9 124.3 497.4 123.3C496.9 122.4 496.9 121.1 497.2 119.9C497.6 118.7 498.6 117.3 499.7 116.4C500.8 115.4 502.4 114.5 503.8 114.1C505.2 113.7 506.9 113.6 508.1 113.9C509.3 114.3 510.4 115.1 510.9 116Z"/>
<path d="M468.3 148.3C468.6 147.1 468.3 145.1 470.8 144.2C473.3 143.2 479.6 143.2 483.3 142.5C487.1 141.8 491 140 493.3 140C495.7 140 496.8 140.6 497.5 142.5C498.2 144.4 498.8 149.6 497.5 151.7C496.2 153.8 492.9 154 490 155C487.1 156 482.8 157.5 480 157.5C477.2 157.5 475.1 156 473.3 155C471.5 154 470 152.8 469.2 151.7C468.3 150.6 468.1 149.6 468.3 148.3Z"/>
<path d="M448 188.8C448 189.6 447.7 190.6 447.2 191.2C446.7 191.8 445.9 192.4 445.1 192.6C444.3 192.9 443.3 192.9 442.5 192.6C441.8 192.4 440.9 191.8 440.5 191.2C440 190.6 439.7 189.6 439.7 188.8C439.7 188 440 187.1 440.5 186.5C440.9 185.8 441.8 185.3 442.5 185C443.3 184.8 444.3 184.8 445.1 185C445.9 185.3 446.7 185.8 447.2 186.5C447.7 187.1 448 188 448 188.8Z"/>
<path d="M279.2 823.3C276.9 822.2 278.8 818.8 280 816.7C281.2 814.6 285 812.8 286.7 810.8C288.3 808.9 288.3 806.2 290 805C291.7 803.8 293.6 803.8 296.7 803.3C299.7 802.9 305.7 801.9 308.3 802.5C311 803.1 311.7 804.9 312.5 806.7C313.3 808.5 313.6 811.7 313.3 813.3C313.1 815 312.5 816.1 310.8 816.7C309.2 817.2 305.7 816.4 303.3 816.7C301 816.9 298.3 817.2 296.7 818.3C295 819.4 296.2 822.5 293.3 823.3C290.4 824.2 281.4 824.4 279.2 823.3Z"/>
<path d="M349.2 765C349.6 763.2 351 761.8 353.3 760.8C355.7 759.9 360.6 759 363.3 759.2C366.1 759.3 368.6 760.4 370 761.7C371.4 762.9 371.9 765.1 371.7 766.7C371.4 768.2 370 769.9 368.3 770.8C366.7 771.8 363.3 771.7 361.7 772.5C360 773.3 359.6 775.3 358.3 775.8C357.1 776.4 355.4 776.5 354.2 775.8C352.9 775.1 351.7 773.5 350.8 771.7C350 769.9 348.8 766.8 349.2 765Z"/>
<path d="M331.7 757.5C332.1 756.8 333.6 755.6 335 755.8C336.4 756.1 339.2 757.9 340 759.2C340.8 760.4 340.7 762.8 340 763.3C339.3 763.9 337.1 763.1 335.8 762.5C334.6 761.9 333.2 760.8 332.5 760C331.8 759.2 331.2 758.2 331.7 757.5Z"/>
<path d="M413.7 470.6C413.4 471.5 412.8 472.5 412.2 473C411.5 473.6 410.6 474 409.8 474.1C409.1 474.1 408.2 473.9 407.6 473.4C407 472.9 406.4 472 406.2 471.2C406 470.4 406.1 469.2 406.3 468.4C406.6 467.5 407.2 466.5 407.8 466C408.5 465.4 409.4 465 410.2 464.9C410.9 464.9 411.8 465.1 412.4 465.6C413 466.1 413.6 467 413.8 467.8C414 468.6 413.9 469.8 413.7 470.6Z"/>
<path d="M428.3 481.7C430.2 481.9 433.5 484.2 434.7 485.8C435.8 487.5 436.1 490 435.3 491.7C434.6 493.3 432.3 494.5 430 495.8C427.7 497.2 423.9 499 421.7 499.7C419.4 500.4 417.1 500.6 416.3 500C415.6 499.4 416.2 497.5 417 495.8C417.8 494.2 419.8 491.9 420.8 490C421.9 488.1 422.1 486.1 423.3 484.7C424.6 483.3 426.4 481.5 428.3 481.7Z"/>
<path d="M394.7 533.1C394.4 533.9 393.7 534.8 393 535.3C392.4 535.8 391.4 536.1 390.7 536C390 536 389.1 535.7 388.6 535.2C388.1 534.7 387.7 533.8 387.6 532.9C387.5 532.1 387.6 531.1 388 530.2C388.3 529.4 389 528.6 389.6 528.1C390.3 527.6 391.2 527.3 392 527.3C392.7 527.3 393.5 527.6 394 528.2C394.6 528.7 395 529.6 395.1 530.4C395.2 531.2 395.1 532.3 394.7 533.1Z"/>
<path d="M506.8 520C506.8 521.1 506.5 522.4 506 523.3C505.5 524.2 504.6 525 503.8 525.4C503 525.7 502 525.7 501.2 525.4C500.4 525 499.5 524.2 499 523.3C498.5 522.4 498.2 521.1 498.2 520C498.2 518.9 498.5 517.6 499 516.7C499.5 515.8 500.4 515 501.2 514.6C502 514.3 503 514.3 503.8 514.6C504.6 515 505.5 515.8 506 516.7C506.5 517.6 506.8 518.9 506.8 520Z"/>
<path d="M486.7 570C486.7 571.5 486.1 573.3 485.2 574.5C484.4 575.7 482.9 576.8 481.5 577.3C480.1 577.8 478.2 577.8 476.8 577.3C475.5 576.8 474 575.7 473.1 574.5C472.2 573.3 471.7 571.5 471.7 570C471.7 568.5 472.2 566.7 473.1 565.5C474 564.3 475.5 563.2 476.8 562.7C478.2 562.2 480.1 562.2 481.5 562.7C482.9 563.2 484.4 564.3 485.2 565.5C486.1 566.7 486.7 568.5 486.7 570Z"/>
<path d="M608.3 687.5C608.6 685.7 610.3 681.1 611.7 678.3C613.1 675.6 615 672.2 616.7 670.8C618.3 669.4 620.1 669.3 621.7 670C623.2 670.7 624.9 672.8 625.8 675C626.8 677.2 627.6 681.2 627.5 683.3C627.4 685.4 626.8 686.5 625 687.5C623.2 688.5 619.2 688.9 616.7 689.2C614.2 689.4 611.4 689.4 610 689.2C608.6 688.9 608.1 689.3 608.3 687.5Z"/>
<path d="M688.8 726.7C688.8 727.8 688.5 729.2 688 730.1C687.6 731 686.7 731.9 686 732.2C685.2 732.6 684.2 732.6 683.4 732.2C682.6 731.9 681.8 731 681.3 730.1C680.8 729.2 680.5 727.8 680.5 726.7C680.5 725.5 680.8 724.2 681.3 723.2C681.8 722.3 682.6 721.5 683.4 721.1C684.2 720.8 685.2 720.8 686 721.1C686.7 721.5 687.6 722.3 688 723.2C688.5 724.2 688.8 725.5 688.8 726.7Z"/>
<path d="M691.5 772.6C692.8 772.4 694.6 773 695.9 774.5C697.1 775.9 697.4 779 699 781.4C700.6 783.8 702.8 786.8 705.3 788.9C707.8 791 711.8 792.4 714.1 793.9C716.4 795.5 718.1 796.8 719.1 798.3C720 799.9 720.1 801.9 719.7 803.3C719.3 804.8 718.6 806 716.6 807.1C714.6 808.3 710.7 808.9 707.8 810.3C704.9 811.6 701.5 814.2 699 815.3C696.5 816.3 694.8 816.5 692.7 816.5C690.6 816.5 687.7 816.5 686.4 815.3C685.2 814 685.3 811.5 685.2 809C685.1 806.5 686 803.3 685.8 800.2C685.6 797.1 684.2 793.1 683.9 790.2C683.6 787.2 683.3 785 683.9 782.6C684.6 780.2 686.4 777.4 687.7 775.7C689 774.1 690.1 772.8 691.5 772.6Z"/>
<path d="M726.6 822.2C725.3 821.1 727.1 817.3 727.9 815.9C728.7 814.5 730.3 814 731.4 814C732.5 814 733.6 814.5 734.4 815.9C735.2 817.3 737.3 821.1 736 822.2C734.7 823.2 728 823.2 726.6 822.2Z"/>
</g>
<g fill="#0000ff">
<path d="M363.2 301.1C363.2 301.5 363 302 362.7 302.4C362.4 302.8 361.8 303.1 361.3 303.2C360.8 303.4 360.1 303.4 359.6 303.2C359.1 303.1 358.5 302.8 358.2 302.4C357.9 302 357.7 301.5 357.7 301.1C357.7 300.6 357.9 300.1 358.2 299.7C358.5 299.4 359.1 299.1 359.6 298.9C360.1 298.8 360.8 298.8 361.3 298.9C361.8 299.1 362.4 299.4 362.7 299.7C363 300.1 363.2 300.6 363.2 301.1Z"/>
<path d="M327.3 488.3C327.3 488.4 327.2 488.6 327.2 488.7C327.1 488.8 326.9 489 326.8 489C326.6 489 326.5 489 326.3 489C326.2 489 326 488.8 325.9 488.7C325.9 488.6 325.8 488.4 325.8 488.3C325.8 488.1 325.9 488 325.9 487.8C326 487.7 326.2 487.6 326.3 487.6C326.5 487.5 326.6 487.5 326.8 487.6C326.9 487.6 327.1 487.7 327.2 487.8C327.2 488 327.3 488.1 327.3 488.3Z"/>
<path d="M475.8 150.5C476.4 149.9 480 148.6 481.7 148.7C483.3 148.7 485.6 149.9 485.8 150.8C486.1 151.7 484.6 153.9 483.3 154.2C482.1 154.4 479.6 153.1 478.3 152.5C477.1 151.9 475.3 151.1 475.8 150.5Z"/>
<path d="M293 810C293.4 808.8 295.4 806.7 296.7 806.7C298 806.7 300.8 808.8 300.8 810C300.8 811.2 297.8 813.5 296.7 814.2C295.6 814.9 294.8 814.9 294.2 814.2C293.6 813.5 292.6 811.2 293 810Z"/>
<path d="M285.8 823.3C284.9 822.5 285.8 819.4 286.7 818.3C287.5 817.2 289.9 815.8 290.8 816.7C291.8 817.5 293.3 822.2 292.5 823.3C291.7 824.4 286.8 824.2 285.8 823.3Z"/>
<path d="M505.2 520C505.2 520.7 505 521.5 504.7 522.1C504.4 522.6 503.8 523.1 503.3 523.3C502.8 523.5 502.2 523.5 501.7 523.3C501.2 523.1 500.6 522.6 500.3 522.1C500 521.5 499.8 520.7 499.8 520C499.8 519.3 500 518.5 500.3 517.9C500.6 517.4 501.2 516.9 501.7 516.7C502.2 516.5 502.8 516.5 503.3 516.7C503.8 516.9 504.4 517.4 504.7 517.9C505 518.5 505.2 519.3 505.2 520Z"/>
<path d="M733.1 818C733.1 818.5 733 818.9 732.7 819.3C732.5 819.6 732.1 819.9 731.7 820.1C731.3 820.2 730.7 820.2 730.3 820.1C729.9 819.9 729.5 819.6 729.3 819.3C729 818.9 728.9 818.5 728.9 818C728.9 817.6 729 817.1 729.3 816.8C729.5 816.4 729.9 816.1 730.3 816C730.7 815.9 731.3 815.9 731.7 816C732.1 816.1 732.5 816.4 732.7 816.8C733 817.1 733.1 817.6 733.1 818Z"/>
</g>
<g fill="#00ff00" stroke="#0000ff" stroke-width="1.25">
<path d="M280.6 110.6C280.6 111.8 280.2 113.1 279.6 114C279 114.9 278 115.7 277.1 116C276.1 116.4 274.8 116.4 273.9 116C272.9 115.7 271.9 114.9 271.3 114C270.7 113.1 270.3 111.8 270.3 110.6C270.3 109.5 270.7 108.2 271.3 107.3C271.9 106.4 272.9 105.6 273.9 105.3C274.8 104.9 276.1 104.9 277.1 105.3C278 105.6 279 106.4 279.6 107.3C280.2 108.2 280.6 109.5 280.6 110.6Z"/>
<path d="M261.9 198.6C265 199.4 264.5 198.2 266.5 200.3C268.6 202.5 272.1 208.1 274.5 211.4C276.8 214.7 279.2 217 280.7 220.2C282.2 223.3 282.5 226.9 283.4 230.2C284.3 233.6 286 237.8 286.1 240.3C286.3 242.7 285.4 244.2 284.4 244.8C283.4 245.3 281.8 245.2 280.1 243.5C278.4 241.8 275.9 238.3 274.1 234.7C272.3 231.2 271.3 226.3 269.3 222.2C267.3 218 265.5 214.3 261.9 209.9C258.3 205.5 250.2 198.3 247.9 195.9C245.6 193.5 245.6 195 247.9 195.4C250.2 195.8 258.8 197.8 261.9 198.6Z"/>
<path d="M261.9 241.5C264.8 242.1 264.5 241.8 265 242.5C265.6 243.2 265.6 245 265.4 245.9C265.3 246.8 264.6 247.5 264 247.8C263.5 248.1 264.4 247.8 261.9 247.8C259.4 247.8 251.4 249.3 249.1 247.8C246.8 246.3 245.8 239.9 247.9 238.8C250 237.8 259 240.9 261.9 241.5Z"/>
<path d="M289.5 254.3C291.4 254.1 293.7 256.4 295.2 259.1C296.6 261.8 297.4 266.8 298.3 270.4C299.2 273.9 300.1 277.3 300.6 280.4C301 283.6 301.2 287.2 301.2 289.2C301.2 291.2 300.8 290.6 300.6 292.5C300.4 294.4 299.2 298.4 299.9 300.7C300.7 303 303.6 304.1 305.2 306.3C306.8 308.5 308.7 311.2 309.6 313.9C310.5 316.6 310.2 319.1 310.9 322.7C311.5 326.2 312.8 331.4 313.4 335.2C313.9 339 313.6 342.1 314 345.3C314.4 348.4 315.8 351.5 315.6 354C315.4 356.5 314.1 358.5 312.7 360.3C311.4 362.2 308.9 364.7 307.7 365.1C306.5 365.5 306.1 364.5 305.5 362.8C304.8 361.2 305 358 304 355.3C302.9 352.6 300.6 349.2 298.9 346.5C297.3 343.8 295.8 341.7 293.9 339C292.1 336.3 289.1 333.1 287.9 330.2C286.7 327.3 286.2 324.7 286.6 321.4C287.1 318.1 289.8 313.5 290.8 310.1C291.8 306.7 293.1 303.3 292.7 301.1C292.2 298.8 289.9 297.7 288.3 296.5C286.6 295.4 284.8 295.1 282.6 294C280.4 293 276.5 291.5 275.1 290.3C273.7 289 273.9 288.5 274.1 286.7C274.3 284.8 275.4 282.3 276.3 279.2C277.2 276 278.2 271 279.5 267.9C280.7 264.7 282.2 262.6 283.9 260.3C285.5 258.1 287.6 254.5 289.5 254.3Z"/>
<path d="M261.9 317.3C265.3 317.5 266.8 317.3 268.6 318C270.3 318.7 271.5 320.2 272.3 321.4C273.1 322.6 273.4 323.8 273.3 325.2C273.2 326.5 272.8 328.2 271.8 329.3C270.9 330.4 269.2 331.4 267.6 331.8C265.9 332.2 265.2 331.8 261.9 331.8C258.6 331.8 250.2 334.4 247.9 331.8C245.6 329.2 245.6 318.7 247.9 316.3C250.2 313.9 258.5 317 261.9 317.3Z"/>
<path d="M274.5 352.8C274.5 353.7 274.1 354.7 273.7 355.4C273.2 356.2 272.4 356.8 271.6 357.1C270.8 357.4 269.8 357.4 269 357.1C268.3 356.8 267.4 356.2 267 355.4C266.5 354.7 266.2 353.7 266.2 352.8C266.2 351.9 266.5 350.8 267 350.1C267.4 349.4 268.3 348.8 269 348.5C269.8 348.2 270.8 348.2 271.6 348.5C272.4 348.8 273.2 349.4 273.7 350.1C274.1 350.8 274.5 351.9 274.5 352.8Z"/>
<path d="M283.2 370.7C283.2 371.2 283.1 371.8 282.8 372.1C282.5 372.5 282 372.9 281.5 373C281 373.1 280.4 373.1 280 373C279.5 372.9 279 372.5 278.7 372.1C278.4 371.8 278.2 371.2 278.2 370.7C278.2 370.3 278.4 369.7 278.7 369.3C279 369 279.5 368.6 280 368.5C280.4 368.3 281 368.3 281.5 368.5C282 368.6 282.5 369 282.8 369.3C283.1 369.7 283.2 370.3 283.2 370.7Z"/>
<path d="M354.8 318.9C354.8 319.8 354.4 320.9 353.8 321.7C353.3 322.5 352.3 323.1 351.3 323.4C350.4 323.7 349.2 323.7 348.2 323.4C347.3 323.1 346.3 322.5 345.7 321.7C345.1 320.9 344.7 319.8 344.7 318.9C344.7 318 345.1 316.8 345.7 316.1C346.3 315.3 347.3 314.6 348.2 314.4C349.2 314.1 350.4 314.1 351.3 314.4C352.3 314.6 353.3 315.3 353.8 316.1C354.4 316.8 354.8 318 354.8 318.9Z"/>
<path d="M329.1 385.4C330.1 383.1 332.6 378.9 335.3 376.6C338.1 374.3 342.2 372.4 345.4 371.6C348.5 370.8 351.2 370.6 354.2 371.6C357.1 372.7 361 375.6 362.9 377.9C364.9 380.2 365.8 383.1 366.1 385.4C366.3 387.7 365 390.5 364.5 391.7C363.9 392.9 364.5 391.5 362.9 392.5C361.4 393.5 358.8 396.3 355.4 397.5C352.1 398.8 346.6 400.3 342.9 400C339.1 399.8 335.2 397.8 332.8 396.3C330.5 394.7 329.4 392.4 328.8 390.6C328.2 388.8 328 387.8 329.1 385.4Z"/>
<path d="M380.3 406.9C380.3 407.7 380 408.5 379.6 409.1C379.2 409.7 378.5 410.2 377.8 410.4C377.2 410.6 376.3 410.6 375.7 410.4C375 410.2 374.3 409.7 373.9 409.1C373.5 408.5 373.2 407.7 373.2 406.9C373.2 406.2 373.5 405.4 373.9 404.8C374.3 404.2 375 403.7 375.7 403.5C376.3 403.3 377.2 403.3 377.8 403.5C378.5 403.7 379.2 404.2 379.6 404.8C380 405.4 380.3 406.2 380.3 406.9Z"/>
<path d="M284.5 382.3C285.8 382.2 287.1 382.6 288.3 383.5C289.4 384.5 290.7 386.9 291.4 387.9C292.1 389 291.6 388.2 292.7 390C293.7 391.8 296.5 396.1 297.7 398.8C298.8 401.5 299.1 403.6 299.6 406.3C300 409 299.6 412.6 300.2 415.1C300.8 417.6 301.9 419.3 303.3 421.4C304.8 423.5 307.2 426.2 309 427.7C310.8 429.1 312.3 430.4 314 430.2C315.7 430 317.9 428.3 319 426.4C320.2 424.5 320.2 420.9 320.9 418.9C321.6 416.9 322.5 415.1 323.4 414.5C324.4 413.8 325.8 413.7 326.5 415.1C327.3 416.5 327.2 420.3 327.8 422.6C328.4 424.9 329.1 427.2 330.3 428.9C331.6 430.6 333.5 431.8 335.3 432.7C337.2 433.5 339.3 433.6 341.6 433.9C343.9 434.2 347.1 433.9 349.1 434.6C351.2 435.2 352.9 436.3 354.2 437.7C355.4 439.1 356.7 441.3 356.7 442.7C356.7 444.2 356 445.4 354.2 446.5C352.3 447.5 348.3 447.8 345.4 449C342.4 450.1 339.1 453 336.6 453.4C334.1 453.8 333 452.2 330.3 451.5C327.6 450.8 323.8 449.4 320.3 449C316.7 448.6 312.1 450.3 309 449C305.8 447.7 304.2 443 301.4 441.5C298.7 439.9 294.6 440.4 292.7 439.6C290.7 438.7 289.5 438.6 289.5 436.4C289.5 434.2 293.1 428.9 292.7 426.4C292.2 423.9 287.8 424.3 287 421.4C286.2 418.5 287.7 412.8 287.6 408.8C287.5 404.9 287.6 400.7 286.4 397.5C285.1 394.4 281.3 391.6 280.1 390C279 388.4 279.4 388.9 279.5 387.9C279.6 387 279.9 385.1 280.7 384.2C281.6 383.2 283.2 382.4 284.5 382.3Z"/>
<path d="M317.8 468.5C319.9 468.5 321.1 470.9 321.5 472.8C321.9 474.8 321.5 477.9 320.3 480.4C319 482.9 316.3 485.6 314 487.9C311.7 490.2 308 491.7 306.5 494.2C304.9 496.7 304.9 501.3 304.6 503C304.3 504.7 305.1 502.8 304.8 504.4C304.5 506 304.3 510.4 302.7 512.6C301.1 514.8 297.2 516 295.2 517.6C293.2 519.2 292.1 521.6 290.8 522C289.4 522.4 287.4 522.9 287 520.1C286.6 517.3 287.6 508.5 288.3 505C288.9 501.6 290.1 501.6 290.8 499.2C291.4 496.8 291.3 493.1 292 490.4C292.8 487.7 293.6 485 295.2 482.9C296.7 480.8 299.1 479.5 301.4 477.9C303.7 476.2 306.3 474.4 309 472.8C311.7 471.3 315.7 468.5 317.8 468.5Z"/>
<path d="M350.6 476C350.6 477.4 350.2 479.1 349.6 480.2C349 481.3 348 482.4 347 482.8C346 483.2 344.7 483.2 343.7 482.8C342.8 482.4 341.7 481.3 341.1 480.2C340.5 479.1 340.1 477.4 340.1 476C340.1 474.6 340.5 472.9 341.1 471.8C341.7 470.6 342.8 469.6 343.7 469.2C344.7 468.7 346 468.7 347 469.2C348 469.6 349 470.6 349.6 471.8C350.2 472.9 350.6 474.6 350.6 476Z"/>
<path d="M375.4 486C375.4 487.1 375.1 488.3 374.7 489.1C374.3 490 373.7 490.7 373 491C372.4 491.4 371.6 491.4 370.9 491C370.3 490.7 369.6 490 369.2 489.1C368.9 488.3 368.6 487.1 368.6 486C368.6 485 368.9 483.8 369.2 482.9C369.6 482.1 370.3 481.3 370.9 481C371.6 480.7 372.4 480.7 373 481C373.7 481.3 374.3 482.1 374.7 482.9C375.1 483.8 375.4 485 375.4 486Z"/>
<path d="M279.5 539.2C280.7 539.4 282.1 545 283.2 547.7C284.4 550.4 286 552.9 286.4 555.3C286.8 557.6 286.6 559.7 285.8 561.5C284.9 563.3 282.9 565.4 281.4 565.9C279.8 566.4 277.8 565.6 276.3 564.7C274.9 563.7 273.2 562.3 272.6 560.3C271.9 558.3 272.1 555 272.6 552.7C273.1 550.4 274.6 548.7 275.7 546.5C276.9 544.2 278.2 539 279.5 539.2Z"/>
<path d="M310.7 809.2C310.7 810 310.4 810.9 310 811.5C309.5 812.2 308.8 812.7 308.1 813C307.4 813.2 306.6 813.2 305.9 813C305.2 812.7 304.5 812.2 304 811.5C303.6 810.9 303.3 810 303.3 809.2C303.3 808.4 303.6 807.4 304 806.8C304.5 806.2 305.2 805.6 305.9 805.4C306.6 805.1 307.4 805.1 308.1 805.4C308.8 805.6 309.5 806.2 310 806.8C310.4 807.4 310.7 808.4 310.7 809.2Z"/>
<path d="M367.5 765.3C367.5 766.1 367.1 767 366.5 767.6C366 768.2 365 768.7 364 769C363.1 769.2 361.9 769.2 361 769C360 768.7 359 768.2 358.5 767.6C357.9 767 357.5 766.1 357.5 765.3C357.5 764.6 357.9 763.7 358.5 763.1C359 762.5 360 761.9 361 761.7C361.9 761.5 363.1 761.5 364 761.7C365 761.9 366 762.5 366.5 763.1C367.1 763.7 367.5 764.6 367.5 765.3Z"/>
<path d="M433.7 489.7C433.7 490.7 433.3 492 432.6 492.8C432 493.6 431 494.4 430 494.7C429 495.1 427.7 495.1 426.7 494.7C425.7 494.4 424.6 493.6 424 492.8C423.4 492 423 490.7 423 489.7C423 488.6 423.4 487.4 424 486.5C424.6 485.7 425.7 484.9 426.7 484.6C427.7 484.3 429 484.3 430 484.6C431 484.9 432 485.7 432.6 486.5C433.3 487.4 433.7 488.6 433.7 489.7Z"/>
<path d="M503.8 520.3C503.8 520.6 503.8 520.8 503.7 521C503.6 521.2 503.4 521.4 503.3 521.4C503.1 521.5 502.9 521.5 502.7 521.4C502.6 521.4 502.4 521.2 502.3 521C502.2 520.8 502.2 520.6 502.2 520.3C502.2 520.1 502.2 519.8 502.3 519.6C502.4 519.5 502.6 519.3 502.7 519.2C502.9 519.2 503.1 519.2 503.3 519.2C503.4 519.3 503.6 519.5 503.7 519.6C503.8 519.8 503.8 520.1 503.8 520.3Z"/>
<path d="M484.2 570C484.2 571 483.8 572.3 483.2 573.1C482.6 574 481.6 574.7 480.7 575.1C479.8 575.4 478.6 575.4 477.6 575.1C476.7 574.7 475.7 574 475.1 573.1C474.5 572.3 474.2 571 474.2 570C474.2 569 474.5 567.7 475.1 566.9C475.7 566 476.7 565.3 477.6 564.9C478.6 564.6 479.8 564.6 480.7 564.9C481.6 565.3 482.6 566 483.2 566.9C483.8 567.7 484.2 569 484.2 570Z"/>
<path d="M624.2 679.7C624.2 681 623.8 682.5 623.2 683.6C622.6 684.6 621.6 685.6 620.7 686C619.8 686.4 618.6 686.4 617.6 686C616.7 685.6 615.7 684.6 615.1 683.6C614.5 682.5 614.2 681 614.2 679.7C614.2 678.4 614.5 676.8 615.1 675.7C615.7 674.7 616.7 673.7 617.6 673.3C618.6 672.9 619.8 672.9 620.7 673.3C621.6 673.7 622.6 674.7 623.2 675.7C623.8 676.8 624.2 678.4 624.2 679.7Z"/>
<path d="M691.5 774.5C692.6 774.4 694.1 774.9 695.2 776.4C696.4 777.8 696.8 781 698.4 783.3C699.9 785.6 702.1 788.1 704.6 790.2C707.2 792.3 711.2 794.2 713.4 795.8C715.6 797.4 717.1 798.3 717.8 799.6C718.6 800.8 718.3 802.3 717.8 803.3C717.3 804.4 716.6 805 714.7 805.9C712.8 806.7 709.1 807.3 706.5 808.4C703.9 809.4 700.9 811.6 699 812.1C697.1 812.7 696.7 812.4 695.2 811.5C693.8 810.6 691.5 808.6 690.2 806.5C689 804.4 688.4 801.7 687.7 799C687 796.2 686.1 792.9 685.8 790.2C685.6 787.4 685.8 784.8 686.2 782.6C686.6 780.4 687.4 778.3 688.3 777C689.2 775.6 690.3 774.6 691.5 774.5Z"/>
</g>
<g fill="#00cc00">
<path d="M277.6 110.9C277.6 111.2 277.5 111.7 277.2 111.9C277 112.2 276.6 112.5 276.3 112.6C275.9 112.7 275.5 112.7 275.1 112.6C274.8 112.5 274.4 112.2 274.2 111.9C274 111.7 273.8 111.2 273.8 110.9C273.8 110.6 274 110.1 274.2 109.9C274.4 109.6 274.8 109.3 275.1 109.2C275.5 109.1 275.9 109.1 276.3 109.2C276.6 109.3 277 109.6 277.2 109.9C277.5 110.1 277.6 110.6 277.6 110.9Z"/>
<path d="M265.7 205.7C266.4 205.8 268.4 207.9 270.1 210.1C271.7 212.3 274.2 216 275.7 218.9C277.2 221.8 278.4 225.9 278.8 227.7C279.3 229.5 278.8 229.8 278.2 229.6C277.6 229.4 276.4 228.4 275.1 226.4C273.7 224.5 271.6 220.5 270.1 217.7C268.5 214.8 266.4 211.5 265.7 209.5C264.9 207.5 264.9 205.6 265.7 205.7Z"/>
<path d="M289.5 260.3C290.7 260.4 292.2 262 293.3 264.1C294.3 266.2 295 269.7 295.8 272.9C296.6 276 297.8 279.7 298.3 282.9C298.8 286.2 299 290.9 298.9 292.3C298.9 293.8 298.5 291 298.1 291.5C297.6 292 297.5 294.9 296.2 295.3C294.9 295.7 292.2 294.7 290.1 294C288.1 293.4 286 292.8 284.1 291.5C282.3 290.3 279.7 289 279.1 286.7C278.5 284.4 280 280.8 280.7 277.9C281.4 275 282.3 271.5 283.2 269.1C284.2 266.7 285.3 264.9 286.4 263.5C287.4 262 288.4 260.2 289.5 260.3Z"/>
<path d="M296.4 307.6C298.1 306 300.8 305.9 302.7 307C304.6 308 306.6 311.3 307.7 313.9C308.9 316.5 309.2 319.1 309.6 322.7C310 326.2 310.5 332.3 310.2 335.2C309.9 338.1 309 339.8 307.7 340.2C306.5 340.6 304.6 339.2 302.7 337.7C300.8 336.3 298.2 333.5 296.4 331.4C294.6 329.4 292.7 327.7 292 325.2C291.4 322.7 291.9 319.3 292.7 316.4C293.4 313.5 294.7 309.2 296.4 307.6Z"/>
<path d="M261.9 318.6C265.2 319 266.1 318.8 267.6 319.4C269 320 270.1 321.3 270.8 322.3C271.5 323.2 271.7 324.2 271.6 325.2C271.5 326.2 271.1 327.4 270.3 328.3C269.5 329.2 268.3 330 266.9 330.3C265.5 330.7 265.1 330.4 261.9 330.4C258.7 330.5 250.2 332.8 247.9 330.6C245.6 328.5 245.6 319.5 247.9 317.5C250.2 315.5 258.6 318.3 261.9 318.6Z"/>
<path d="M331.6 385.4C332 383 334.8 380.5 337.2 378.5C339.6 376.5 343.2 374.3 346 373.5C348.8 372.7 351.5 372.6 354.2 373.5C356.8 374.4 360 377.2 361.7 379.1C363.4 381.1 364.1 383.4 364.2 385.4C364.4 387.4 363.8 389.5 362.6 391.1C361.3 392.7 359.7 394.2 356.7 395C353.6 395.9 347.8 396.6 344.1 396.3C340.5 396 336.8 394.9 334.7 393.1C332.6 391.3 331.2 387.9 331.6 385.4Z"/>
<path d="M379 407.2C379 407.6 378.8 408.2 378.6 408.5C378.3 408.9 377.9 409.2 377.5 409.3C377 409.5 376.5 409.5 376.1 409.3C375.6 409.2 375.2 408.9 374.9 408.5C374.7 408.2 374.5 407.6 374.5 407.2C374.5 406.8 374.7 406.2 374.9 405.9C375.2 405.5 375.6 405.2 376.1 405C376.5 404.9 377 404.9 377.5 405C377.9 405.2 378.3 405.5 378.6 405.9C378.8 406.2 379 406.8 379 407.2Z"/>
<path d="M285.1 385.4C285.9 384.6 286.7 384.1 287.9 386C289.1 388 290.4 394.7 292.2 397.3C293.9 399.9 296.9 399.2 298.3 401.5C299.7 403.8 300.4 408.2 300.7 411.1C301 413.9 299.8 416.5 300.2 418.6C300.6 420.7 301.5 421.8 302.9 423.6C304.4 425.5 306.9 428.6 308.7 429.9C310.6 431.2 312.3 431.7 314 431.4C315.7 431.2 317.8 430.1 319 428.3C320.2 426.5 320.5 422.7 321.3 420.8C322.1 418.8 322.9 416.6 323.7 416.6C324.4 416.6 324.9 418.5 325.5 420.8C326.2 423 326 427.6 327.3 429.9C328.6 432.2 331.1 433.6 333.5 434.7C335.8 435.7 338.9 436 341.6 436.2C344.3 436.4 347.5 434.9 349.8 435.7C352.1 436.5 354.7 439.5 355.4 441.2C356.2 443 355.7 445.1 354.2 446.2C352.6 447.4 348.8 447 346 448C343.2 449 340 451.6 337.2 452C334.4 452.4 332.1 451 329.3 450.3C326.5 449.5 323.6 448 320.3 447.7C316.9 447.5 311.9 449.6 309.2 448.7C306.5 447.9 306 444.5 304.2 442.7C302.4 440.9 299.6 439.4 298.3 437.9C297 436.5 296.4 435.6 296.2 433.9C296 432.2 298.2 429.9 297.1 427.7C295.9 425.5 291 423.9 289.5 420.8C288 417.6 288.4 412.3 288.1 408.8C287.9 405.3 288.7 402.7 287.9 399.8C287.1 396.9 283.7 393.7 283.2 391.3C282.8 388.9 284.4 386.3 285.1 385.4Z"/>
<path d="M316.5 471C318.1 470.9 319.3 472.6 319.6 474.1C320 475.6 319.5 477.7 318.4 479.7C317.2 481.8 314.8 484.6 312.7 486.7C310.6 488.7 307.4 490.2 305.8 492.3C304.3 494.4 303.8 497.5 303.3 499.2C302.8 500.9 302.7 501.1 302.7 502.5C302.7 503.9 303.6 506 303.3 507.6C303 509.1 302.4 510.6 300.8 511.9C299.2 513.3 295.6 514.6 293.9 515.7C292.2 516.9 291.6 518.7 290.8 518.8C289.9 519 289 518.6 288.9 516.3C288.8 514 289.4 508.1 290.1 505C290.9 502 292.7 500.4 293.3 497.9C293.9 495.5 293.3 492.7 293.9 490.4C294.5 488.1 295.6 485.9 297.1 484.1C298.5 482.4 300.5 481.3 302.7 479.7C304.9 478.2 307.9 476.2 310.2 474.7C312.5 473.3 314.9 471.1 316.5 471Z"/>
<path d="M348.8 476.8C348.6 477.7 348.2 478.8 347.7 479.4C347.3 480.1 346.6 480.7 346 480.8C345.5 481 344.8 480.9 344.4 480.5C343.9 480.1 343.5 479.3 343.4 478.5C343.2 477.7 343.2 476.6 343.4 475.7C343.6 474.8 344 473.7 344.5 473.1C344.9 472.4 345.6 471.8 346.2 471.7C346.7 471.5 347.4 471.6 347.8 472C348.3 472.4 348.7 473.2 348.8 474C349 474.8 349 475.9 348.8 476.8Z"/>
<path d="M284 556.8C284 557.9 283.7 559.2 283.1 560.1C282.6 561 281.7 561.8 280.9 562.1C280 562.5 278.9 562.5 278.1 562.1C277.2 561.8 276.3 561 275.8 560.1C275.3 559.2 275 557.9 275 556.8C275 555.7 275.3 554.3 275.8 553.4C276.3 552.5 277.2 551.7 278.1 551.4C278.9 551 280 551 280.9 551.4C281.7 551.7 282.6 552.5 283.1 553.4C283.7 554.3 284 555.7 284 556.8Z"/>
<path d="M432.3 489.7C432.3 490.5 432 491.4 431.6 492C431.1 492.7 430.3 493.2 429.6 493.5C428.8 493.7 427.8 493.7 427.1 493.5C426.4 493.2 425.6 492.7 425.1 492C424.6 491.4 424.3 490.5 424.3 489.7C424.3 488.9 424.6 487.9 425.1 487.3C425.6 486.7 426.4 486.1 427.1 485.9C427.8 485.6 428.8 485.6 429.6 485.9C430.3 486.1 431.1 486.7 431.6 487.3C432 487.9 432.3 488.9 432.3 489.7Z"/>
<path d="M482.5 570C482.5 570.7 482.2 571.6 481.9 572.2C481.5 572.7 480.8 573.3 480.2 573.5C479.6 573.7 478.8 573.7 478.1 573.5C477.5 573.3 476.9 572.7 476.5 572.2C476.1 571.6 475.8 570.7 475.8 570C475.8 569.3 476.1 568.4 476.5 567.8C476.9 567.3 477.5 566.7 478.1 566.5C478.8 566.3 479.6 566.3 480.2 566.5C480.8 566.7 481.5 567.3 481.9 567.8C482.2 568.4 482.5 569.3 482.5 570Z"/>
<path d="M621.2 680C621.2 680.7 621 681.4 620.7 682C620.5 682.5 620 683 619.6 683.2C619.1 683.4 618.5 683.4 618.1 683.2C617.7 683 617.2 682.5 616.9 682C616.7 681.4 616.5 680.7 616.5 680C616.5 679.3 616.7 678.6 616.9 678C617.2 677.5 617.7 677 618.1 676.8C618.5 676.6 619.1 676.6 619.6 676.8C620 677 620.5 677.5 620.7 678C621 678.6 621.2 679.3 621.2 680Z"/>
<path d="M691.7 776.4C692.9 776.1 694.1 777.2 695.2 778.6C696.4 780.1 697.1 783 698.7 785.1C700.4 787.3 702.6 789.4 705 791.4C707.4 793.4 711.3 795.6 713.2 797.1C715.1 798.5 716.1 799.1 716.6 800.2C717 801.3 716.9 802.9 715.9 803.7C715 804.6 712.5 804.7 710.9 805.2C709.4 805.8 708.5 806.3 706.5 807.1C704.5 807.9 700.9 810 699 810C697.1 810 696.4 808.5 695 807.1C693.6 805.7 691.7 803.9 690.6 801.5C689.5 799.1 688.8 795 688.3 792.7C687.8 790.4 687.5 789.7 687.4 787.7C687.4 785.6 687.2 782 687.9 780.1C688.7 778.2 690.5 776.6 691.7 776.4Z"/>
</g>
<g fill="#009900">
<path d="M289.9 264.1C290.8 264.1 291.8 265 292.7 266.6C293.5 268.2 294.4 270.8 295.2 273.5C296 276.2 297 279.8 297.4 282.9C297.9 286.1 298 291.1 297.9 292.3C297.9 293.6 297.7 290.2 297.1 290.3C296.4 290.3 295.3 292.5 293.9 292.8C292.6 293.1 290.4 292.7 288.9 292.2C287.3 291.7 285.8 290.7 284.6 289.8C283.5 288.9 282.2 288.7 282 286.7C281.8 284.7 282.7 280.5 283.2 277.9C283.8 275.3 284.4 272.9 285.1 271C285.8 269.1 286.6 267.8 287.4 266.6C288.2 265.5 289 264.1 289.9 264.1Z"/>
<path d="M297.7 309.5C299.2 308.1 301.6 308.4 303.1 309.5C304.6 310.5 305.8 313.3 306.7 315.8C307.6 318.2 308 320.8 308.3 323.9C308.7 327.1 309 332.3 308.7 334.6C308.4 336.9 307.5 337.4 306.5 337.7C305.5 338.1 304.2 337.7 302.7 336.7C301.2 335.8 299.2 333.9 297.7 332.1C296.1 330.3 294 328.2 293.3 325.8C292.6 323.4 292.9 320.4 293.7 317.6C294.4 314.9 296.1 310.8 297.7 309.5Z"/>
<path d="M261.9 319.9C265.1 320.2 265.9 320.1 267.2 320.6C268.5 321.2 269.1 322.3 269.6 323C270 323.8 270.1 324.4 270.1 325.2C270 325.9 269.6 327 269.1 327.7C268.5 328.3 267.7 328.9 266.5 329.2C265.4 329.4 265 329.2 261.9 329.2C258.8 329.2 250.2 330.9 247.9 329.2C245.6 327.4 245.6 320.2 247.9 318.7C250.2 317.1 258.7 319.6 261.9 319.9Z"/>
<path d="M335.3 385.4C335.6 383.3 338.5 380.9 340.4 379.1C342.2 377.4 344.2 375.9 346.6 375.1C349 374.4 352.3 373.9 354.8 374.7C357.3 375.6 360.3 378.6 361.7 380.4C363.1 382.2 363.2 383.7 363.2 385.4C363.2 387.1 362.9 389.1 361.7 390.4C360.5 391.8 358.7 392.9 356 393.5C353.4 394.2 348.9 394.6 346 394.3C343.1 394 340.3 393.2 338.5 391.8C336.7 390.3 335 387.5 335.3 385.4Z"/>
<path d="M292.4 399C293.7 399.3 296.2 400.5 297.4 402.6C298.6 404.6 299.3 408.7 299.6 411.3C299.8 414 299.7 417.1 298.9 418.6C298.2 420.2 296.3 421.3 294.9 420.8C293.5 420.2 291.4 417.5 290.4 415.1C289.4 412.7 289 408.7 288.9 406.3C288.8 404 289.1 402.3 289.6 401C290.2 399.8 291.1 398.8 292.4 399Z"/>
<path d="M302.4 427.4C303.8 427.3 306.3 431.9 309.2 432.4C312.2 432.9 317.3 430.5 320.3 430.4C323.3 430.3 324.9 430.7 327.2 431.7C329.4 432.6 331.4 435.2 333.8 436.2C336.2 437.2 339.1 437.6 341.6 437.7C344.2 437.8 347.1 436.4 349.1 437.1C351.2 437.7 353.5 440.1 354.2 441.5C354.8 442.8 354.2 444.4 352.9 445.2C351.7 446.1 349.1 445.6 346.6 446.5C344.1 447.4 340.8 450.1 337.8 450.5C334.9 450.9 332 449.5 329.1 448.7C326.1 448 323.5 446.4 320.3 446.2C317.1 446 312.5 448.3 310 447.5C307.5 446.7 306.7 443.6 305.2 441.2C303.7 438.8 301.3 435.6 300.8 433.3C300.4 431 301 427.6 302.4 427.4Z"/>
<path d="M294.9 419.5C295.3 418.9 297.5 419.9 298.9 421.4C300.4 422.8 303.3 426.6 303.7 428.3C304.1 430 302.7 431.9 301.4 431.4C300.2 430.9 297.5 427.1 296.4 425.1C295.3 423.2 294.5 420.1 294.9 419.5Z"/>
<path d="M315.3 472.2C316.5 472.2 317.5 474.2 317.8 475.4C318 476.5 317.7 477.7 316.8 479.4C315.8 481 314 483.5 312.1 485.4C310.2 487.3 307.1 489.2 305.5 491C303.8 492.9 303.1 494.8 302.4 496.7C301.8 498.6 301.8 500.7 301.7 502.5C301.6 504.3 302.4 506.1 302.1 507.6C301.8 509 301.2 510.3 299.9 511.3C298.7 512.4 295.9 513.4 294.5 513.8C293.2 514.2 292.2 515.3 291.7 513.8C291.1 512.4 290.8 507.7 291.4 505C292 502.4 294.6 500.4 295.4 497.9C296.3 495.5 295.8 492.6 296.4 490.4C297 488.2 297.7 486.5 298.9 484.8C300.2 483 302.1 481.3 304 479.7C305.8 478.2 308.3 476.9 310.2 475.6C312.1 474.4 314 472.3 315.3 472.2Z"/>
<path d="M281.7 557.1C281.7 557.5 281.6 557.9 281.5 558.2C281.4 558.4 281.1 558.7 280.9 558.8C280.6 558.9 280.3 558.9 280.1 558.8C279.9 558.7 279.6 558.4 279.5 558.2C279.3 557.9 279.2 557.5 279.2 557.1C279.2 556.8 279.3 556.4 279.5 556.1C279.6 555.8 279.9 555.6 280.1 555.5C280.3 555.4 280.6 555.4 280.9 555.5C281.1 555.6 281.4 555.8 281.5 556.1C281.6 556.4 281.7 556.8 281.7 557.1Z"/>
<path d="M692.1 778.2C693.1 778.2 694.1 779.8 695.2 781.4C696.4 782.9 697.3 785.8 699 787.7C700.7 789.5 703 790.9 705.3 792.7C707.6 794.5 711.1 796.9 712.8 798.3C714.5 799.8 715.2 800.5 715.3 801.5C715.4 802.4 714.9 803.2 713.4 804C712 804.7 708.9 805.2 706.5 805.9C704.1 806.5 701.1 808.3 699 807.7C696.9 807.2 695.3 804.6 694 802.7C692.6 800.8 691.7 799 690.8 796.4C690 793.9 689.2 790.2 689 787.7C688.7 785.1 688.7 782.9 689.2 781.4C689.7 779.8 691.1 778.2 692.1 778.2Z"/>
</g>
<g fill="#ffff00">
<path d="M290.8 268.5C292.2 268.5 294.1 270.9 295.2 272.9C296.2 274.9 296.7 277.5 297.1 280.4C297.4 283.3 297.4 289 297.3 290.5C297.2 291.9 297.1 288.8 296.4 289C295.8 289.2 294.4 291.3 293.3 291.5C292.1 291.7 290.5 291 289.5 290.3C288.5 289.5 287.7 288.4 287.1 287.1C286.6 285.9 286.6 284.3 286.4 282.9C286.2 281.6 285.8 280.8 285.8 279.2C285.8 277.5 285.5 274.7 286.4 272.9C287.2 271.1 289.3 268.5 290.8 268.5Z"/>
<path d="M298.9 311.4C300.1 311.2 302.2 311.2 303.3 312.6C304.5 314.1 305.2 317.4 305.8 320.1C306.5 322.9 307 326.5 307.1 328.9C307.2 331.3 307.1 333.4 306.5 334.6C305.8 335.7 304.6 336.2 303.3 335.8C302.1 335.5 300.3 334.3 298.9 332.7C297.6 331.1 295.9 328.5 295.2 326.4C294.4 324.3 294.3 322.2 294.5 320.1C294.7 318.1 295.7 315.3 296.4 313.9C297.2 312.4 297.8 311.6 298.9 311.4Z"/>
<path d="M261.9 321.4C265.1 321.7 265.8 321.4 266.9 322C268 322.7 268.6 324.2 268.6 325.2C268.6 326.1 268 327.2 266.9 327.7C265.8 328.1 265.1 327.8 261.9 327.9C258.7 328 250.2 329.6 247.9 328.3C245.6 327.1 245.6 321.5 247.9 320.4C250.2 319.2 258.7 321.1 261.9 321.4Z"/>
<path d="M339.1 385.4C339.7 383.5 342.7 379.4 345.4 377.9C348.1 376.4 352.6 376 355.4 376.6C358.2 377.3 361.3 379.6 362.3 381.7C363.4 383.7 362.8 387.5 361.7 389.2C360.5 390.9 357.9 391.3 355.4 391.7C352.9 392.1 348.9 392.1 346.6 391.7C344.3 391.3 342.9 390.2 341.6 389.2C340.4 388.1 338.5 387.3 339.1 385.4Z"/>
<path d="M292.7 400.7C293.6 401 295.5 402 296.4 403.8C297.4 405.6 298.1 409 298.3 411.3C298.5 413.6 298.3 416.4 297.7 417.6C297.1 418.9 295.6 419.5 294.5 418.9C293.5 418.2 292.1 415.9 291.4 413.8C290.7 411.8 290.3 408.3 290.1 406.3C290 404.3 290.4 402.9 290.8 401.9C291.2 401 291.7 400.4 292.7 400.7Z"/>
<path d="M303.3 428.9C304.5 429.1 306.2 433.4 309 433.9C311.8 434.5 317.3 432.2 320.3 432.1C323.2 431.9 324.5 432.4 326.5 433.3C328.6 434.2 330.5 436.3 332.8 437.7C335.1 439.1 339 440.2 340.4 441.5C341.7 442.7 341.6 444 341 445.2C340.4 446.5 338.6 448.7 336.6 449C334.6 449.3 331.8 447.8 329.1 447.1C326.3 446.4 323.4 444.8 320.3 444.6C317.1 444.4 312.5 446.6 310.2 445.9C307.9 445.1 307.8 442.4 306.5 440.2C305.1 438 302.6 434.6 302.1 432.7C301.5 430.8 302.2 428.7 303.3 428.9Z"/>
<path d="M314 474.1C314.9 474.5 316.3 476 315.9 477.9C315.5 479.7 313.3 483.3 311.5 485.4C309.7 487.5 307 489.6 305.2 490.4C303.4 491.3 301.7 491.3 300.8 490.4C300 489.6 299.5 487.3 300.2 485.4C300.9 483.5 303.5 480.8 305.2 479.1C306.9 477.4 308.8 476.2 310.2 475.4C311.7 474.5 313.1 473.7 314 474.1Z"/>
<path d="M297.7 500C298.7 500.4 300.5 503.4 300.8 505C301.1 506.7 300.5 508.9 299.6 510.1C298.6 511.2 296.2 512.4 295.2 511.9C294.1 511.5 293.4 509.1 293.3 507.6C293.2 506 293.8 503.8 294.5 502.5C295.3 501.3 296.6 499.6 297.7 500Z"/>
<path d="M295.8 501.1C296.1 500.3 297.6 499.1 298.3 499.2C299 499.3 300.1 500.8 300.2 501.7C300.3 502.6 299.6 504.1 298.9 504.4C298.3 504.8 296.9 504.3 296.4 503.8C295.9 503.2 295.5 501.9 295.8 501.1Z"/>
<path d="M429.8 489.2C429.8 489.4 429.8 489.7 429.6 490C429.5 490.2 429.3 490.4 429.1 490.4C429 490.5 428.7 490.5 428.5 490.4C428.3 490.4 428.1 490.2 428 490C427.9 489.7 427.8 489.4 427.8 489.2C427.8 488.9 427.9 488.6 428 488.4C428.1 488.2 428.3 488 428.5 487.9C428.7 487.8 429 487.8 429.1 487.9C429.3 488 429.5 488.2 429.6 488.4C429.8 488.6 429.8 488.9 429.8 489.2Z"/>
<path d="M692.1 780.1C692.8 780.1 693.6 780.6 694.6 782C695.6 783.4 696.7 786.4 698.4 788.3C700 790.2 702.4 791.6 704.6 793.3C706.8 795 710.2 797 711.5 798.3C712.9 799.7 712.9 800.6 712.8 801.5C712.7 802.3 712.2 802.7 710.9 803.3C709.7 804 707.1 805.2 705.3 805.2C703.5 805.2 701.9 804.5 700.3 803.3C698.6 802.2 696.6 800.1 695.2 798.3C693.9 796.5 692.9 794.7 692.1 792.7C691.3 790.7 690.5 788.2 690.2 786.4C689.9 784.6 689.9 783.1 690.2 782C690.5 781 691.4 780.1 692.1 780.1Z"/>
</g>
<g fill="#ffcc00">
<path d="M291.4 277.9C292.4 278.4 294.5 281.9 295.2 284.2C295.8 286.5 295.4 290.8 295.2 291.7C295 292.6 294.5 290.2 293.9 289.6C293.3 289.1 292.1 289 291.4 288.4C290.7 287.8 289.9 287.3 289.5 286.1C289.2 284.8 289 282.4 289.3 281C289.6 279.7 290.4 277.4 291.4 277.9Z"/>
<path d="M301.4 316.4C302.2 317 303.5 320.4 304 322.7C304.4 325 304.4 328.7 304 330.2C303.5 331.7 302.3 332.3 301.4 331.4C300.6 330.6 299.2 327.3 298.9 325.2C298.6 323.1 299.1 320.4 299.6 318.9C300 317.4 300.7 315.8 301.4 316.4Z"/>
<path d="M347.9 380.4C349 379.4 353.1 378.5 355.4 379.1C357.7 379.8 361.1 382.5 361.7 384.2C362.3 385.8 360.6 388.3 359.2 389.2C357.7 390 354.7 389.8 352.9 389.2C351.1 388.6 349.4 386.9 348.5 385.4C347.7 384 346.7 381.4 347.9 380.4Z"/>
<path d="M293.9 407.6C294.4 407.7 295.7 410.7 295.8 412C295.9 413.2 295.1 415.2 294.5 415.1C294 415 292.8 412.6 292.7 411.3C292.6 410.1 293.4 407.5 293.9 407.6Z"/>
<path d="M309 437.7C310.6 436.7 317.1 435.3 320.3 435.2C323.4 435.1 325.1 436 327.8 437.1C330.5 438.1 335 440.1 336.6 441.5C338.2 442.8 337.8 444.4 337.2 445.2C336.6 446.1 334.8 446.7 332.8 446.5C330.8 446.3 328.2 444.6 325.3 444C322.4 443.3 317.8 443.1 315.3 442.7C312.7 442.3 311.3 442.3 310.2 441.5C309.2 440.6 307.3 438.7 309 437.7Z"/>
<path d="M311.5 477.9C312.1 478.3 311.3 481.3 310.2 482.9C309.2 484.5 306.4 486.9 305.2 487.3C304.1 487.7 303.1 486.5 303.3 485.4C303.5 484.2 305.1 481.6 306.5 480.4C307.8 479.1 310.9 477.4 311.5 477.9Z"/>
<path d="M692.7 784.5C693.3 784.3 694.6 786.3 695.9 787.7C697.1 789 698.5 791.2 700.3 792.7C702 794.1 705 795.3 706.5 796.4C708.1 797.6 709.4 798.6 709.7 799.6C710 800.5 709.4 801.6 708.4 802.1C707.5 802.6 705.6 803.1 704 802.7C702.4 802.3 700.5 800.8 699 799.6C697.5 798.3 696.4 797 695.2 795.2C694.1 793.4 692.5 790.7 692.1 788.9C691.7 787.1 692.1 784.7 692.7 784.5Z"/>
</g>
<g fill="#ff6600">
<path d="M358.2 385.4C358.2 385.9 358 386.5 357.7 386.9C357.3 387.3 356.8 387.7 356.3 387.8C355.8 388 355.1 388 354.6 387.8C354.1 387.7 353.5 387.3 353.2 386.9C352.9 386.5 352.7 385.9 352.7 385.4C352.7 384.9 352.9 384.3 353.2 383.9C353.5 383.5 354.1 383.2 354.6 383C355.1 382.9 355.8 382.9 356.3 383C356.8 383.2 357.3 383.5 357.7 383.9C358 384.3 358.2 384.9 358.2 385.4Z"/>
<path d="M330.3 441.7C330.3 441.9 330.2 442.1 330.1 442.2C329.9 442.4 329.7 442.5 329.4 442.6C329.2 442.6 328.9 442.6 328.7 442.6C328.4 442.5 328.2 442.4 328 442.2C327.9 442.1 327.8 441.9 327.8 441.7C327.8 441.5 327.9 441.3 328 441.2C328.2 441.1 328.4 440.9 328.7 440.9C328.9 440.8 329.2 440.8 329.4 440.9C329.7 440.9 329.9 441.1 330.1 441.2C330.2 441.3 330.3 441.5 330.3 441.7Z"/>
<path d="M706.7 798.7C706.7 799 706.6 799.3 706.4 799.6C706.3 799.8 706.1 800 705.9 800.1C705.7 800.2 705.4 800.2 705.2 800.1C705 800 704.7 799.8 704.6 799.6C704.5 799.3 704.4 799 704.4 798.7C704.4 798.4 704.5 798.1 704.6 797.8C704.7 797.6 705 797.4 705.2 797.3C705.4 797.2 705.7 797.2 705.9 797.3C706.1 797.4 706.3 797.6 706.4 797.8C706.6 798.1 706.7 798.4 706.7 798.7Z"/>
</g>
</g>
<g class="grid">
<path class="gv" d="M301.2 811.8 V79.3"/>
<path class="gv" d="M359 811.8 V79.3"/>
<path class="gv" d="M416.8 811.8 V79.3"/>
<path class="gv" d="M474.6 811.8 V79.3"/>
<path class="gv" d="M532.4 811.8 V79.3"/>
<path class="gv" d="M590.2 811.8 V79.3"/>
<path class="gv" d="M648 811.8 V79.3"/>
<path class="gv" d="M705.8 811.8 V79.3"/>
<path class="gv" d="M763.6 811.8 V79.3"/>
<path class="gv" d="M821.4 811.8 V79.3"/>
<path class="gv" d="M879.2 811.8 V79.3"/>
<path class="gh" d="M271.6 797.5 H937.8"/>
<path class="gh" d="M271.6 730.2 H937.8"/>
<path class="gh" d="M271.6 662.9 H937.8"/>
<path class="gh" d="M271.6 595.5 H937.8"/>
<path class="gh" d="M271.6 528.2 H937.8"/>
<path class="gh" d="M271.6 460.9 H937.8"/>
<path class="gh" d="M271.6 393.6 H937.8"/>
<path class="gh" d="M271.6 326.3 H937.8"/>
<path class="gh" d="M271.6 258.9 H937.8"/>
<path class="gh" d="M271.6 191.6 H937.8"/>
<path class="gh" d="M271.6 124.3 H937.8"/>
</g>
<g class="coast" clip-path="url(#fr)">
<path d="M278.2 79.8 288.3 95.7 295.2 101.6 298.9 108.9 303.7 121.8 322.2 129.4 325.5 139.6 317.4 135.9 310.6 141.5 317.4 147.8 322.8 155.6 317.8 163.5 307.3 161.4 298.6 165.4 291.4 159.7 278 171.7 295.2 179.2 304.6 187.3 309 191.5 318.4 189.4 326.5 195.7 328.1 210.1 327.6 221.4 324.4 233.3 332.8 229.6 329.9 239 321.5 242.8 313.7 249 303.3 251.5 300.4 261 305.6 271 296.4 282.3 292.7 284.8 287.9 292.3 288.3 293.2 293.3 302.6 291.4 313.9 293.3 323.9 299.6 335.2 303.3 347.8 310.2 360.3 329.1 391.7 332.8 394.4 341.6 398.8 352.9 401 365.5 401.9 376.8 404.4 388.1 408.8 398.1 416.4 402.5 421.7 415 440 428.8 460.8 437.5 465 444.5 445 452.8 441.2 454.5 429.2 465 431.2 474.5 415 481.7 409.2 471.7 411.3 468.3 399.2 468.3 385.3 456.2 385.3 448.8 379.2 439.2 377 430.5 373.3 420 357 411.7 351.3 406.7 315 399.2 309.2 406.7 313.8 416.7 331.2 425.3 335 435.8 333.3 440.8 341.2 451.3 343.7 456.3 351.3 465 355.5 470 362.8 478.3 368.3 486.7 372.5 497.8 375.3 488.7 379.5 498.7 377 505.8 383.3 507.8 395.3 514.7 401.3 524.7 417.5 525 431.7 524.7 431.3 519.7 439.2 518 450.8 524.7 456.7 530 465 536.7 470.8 543.8 479.2 553.8 477.2 563.3 478.8 572.8 483 564.2 479.5 573.3 483.3 592.5 487 610.5 495 620.8 511.3 630.8 513 646.7 520.5 658.3 525 672 537 677.2 545 685.8 549.2 692.8 555 697.8 563 704.7 569.2 709.5 578.3 705 569 709.7 578.7 717 584.5 722.2 592.5 725.5 603 721.8 613 723.5 625 728.8 632.5 721.8 638.5 717 646.2 727 644.8 718.7 648.3 716.7 660.8 702.8 673.3 699.5 682.5 709.2 697.5 724.2 710.8 728.8 718.3 737.5 722.5 749.2 720.5 783.7 736.7 788.7 729.2 789.2 714.2 785.8 705 780 696.3 762.8 688.3 757.5 680 751.3 660.5 773 656.7 783.7 673 800.8 680.8 810.8 682.8 817.8 688.3 806.2 688.7 810.8 696.7 820.8 698.7 812.8 702.8 817.8 710.8 821.3 722.8 816.7 730 814.7 742.8 827.5 754.2 836.7 759.2 843.3 765 848.3 771.7 854.2 780.8 860.8 799.2 860.5 814.5 867.5 814.5 869.2 802 866.3 791.7 865.3 778.3 867.5 766.7 872.5 758.7 890 750.5 900.8 748.3 920 752.5 929.2 756.7 937.8 758.3"/>
<path d="M322.2 129.4 325.3 119.6 331.6 110.8 334.7 101.6 344.5 99.6 350.4 105.1 358.6 111.4 368 115.8 387.4 119.2 400 125 473.3 159.5 480 156.7 486.7 151.7 495.8 143.3 502.5 140 511.7 133.3 519.5 129.5 526.3 135.5 538.3 135.5 545.8 141.7 553.3 145.8 560.8 153.3 569.5 157.5 579.5 147.5 583.3 157.5 588.3 165.3 590 166.3 605.8 173.7 608.7 183.3 610.5 195.3 622.5 195.3 631.2 199.5 639.5 195.5 648.3 199.5 662 211.7 671.7 209.7 680.8 205.8 689.7 199.7 700 197.5 708.3 193.7 715 188 711.7 162.5"/>
<path d="M325.9 79.8 333.5 86 349.8 93.8 355.2 101.7 371.7 109.5 392.4 113.5 399.4 116.4 400 117.5 408.3 123.7 418.3 125.8 430 125.8 440 127.8 457.5 135.5 469.2 135.5 477.5 139.2 485 138.3 490.8 135.8 495.8 130.8 498.3 123.3 497.5 110 499.2 98.3 496.7 88.3 490.8 80"/>
<path d="M450 101.2 456.3 109.7 447.5 113.7 450 101.2"/>
<path d="M673.8 80 675 90 677.5 107.5 683.3 124.2 690 137.5 700 153.3 702.8 163.3 712.5 161.7 717.5 164.2 722.5 171.7 725.8 181.7 728.8 191.2 723.8 183.7 723 198.3 720.5 207.2 728.8 203.3 734.2 211.7 735.8 224.2 742.2 243.3 747.5 251.3 750.8 261.2 756.3 269.7 759.7 279.7 785 319.2 792.5 325.3 795 330 818 365 824.7 371.2 835 369.2 838.3 379.2 869.2 427 877.8 430.8 880.5 440 886.7 449.2 895 453.3 915.5 457.5 920.8 465.3 937.5 478.8"/>
<path d="M925.8 469.2 920.8 471.3 917.5 480.8 908.7 485 895 473 890 465.3 881.2 461.2 870.8 463.3 865.8 471.3 872.8 485 867.5 485 859.2 488.8 853.8 497.5 853.8 581.3 855.3 582.8 865.3 585 874.7 589.2 881.2 597 889.7 600.8 895 608.8 891.7 618.7 884.2 625 867.8 632.7 864.5 642.5 857.5 648.7 860.8 659.2 871.2 674.7 873.3 686.7 874.7 698.3 874.5 700 874.5 712.5 869.2 720.8 862.2 726.7 852.2 728.7 847.5 736.7 839.5 743.3 831.7 746.7 840 756.7 846.7 761.7 854.2 765 855.8 775 862.5 796.7 862.2 814.5"/>
<path d="M422.5 343.3 432.5 345.3 437.5 353 427.5 355.5 420 348.7 422.5 343.3"/>
</g>
<rect x="262.7" y="79.3" width="675.0999999999999" height="741.1" fill="none" stroke="#000" stroke-width="1.25"/>
<g class="tick">
<path d="M301.2 820.4 v5"/>
<path d="M359 820.4 v5"/>
<path d="M416.8 820.4 v5"/>
<path d="M474.6 820.4 v5"/>
<path d="M532.4 820.4 v5"/>
<path d="M590.2 820.4 v5"/>
<path d="M648 820.4 v5"/>
<path d="M705.8 820.4 v5"/>
<path d="M763.6 820.4 v5"/>
<path d="M821.4 820.4 v5"/>
<path d="M879.2 820.4 v5"/>
<path d="M262.7 797.5 h-5.5"/>
<path d="M262.7 730.2 h-5.5"/>
<path d="M262.7 662.9 h-5.5"/>
<path d="M262.7 595.5 h-5.5"/>
<path d="M262.7 528.2 h-5.5"/>
<path d="M262.7 460.9 h-5.5"/>
<path d="M262.7 393.6 h-5.5"/>
<path d="M262.7 326.3 h-5.5"/>
<path d="M262.7 258.9 h-5.5"/>
<path d="M262.7 191.6 h-5.5"/>
<path d="M262.7 124.3 h-5.5"/>
</g>
<g class="ax">
<text x="278.2" y="840.9" textLength="45.7" lengthAdjust="spacingAndGlyphs">85.8W</text>
<text x="336.1" y="840.9" textLength="45.7" lengthAdjust="spacingAndGlyphs">85.5W</text>
<text x="393.8" y="840.9" textLength="45.7" lengthAdjust="spacingAndGlyphs">85.2W</text>
<text x="451.6" y="840.9" textLength="45.7" lengthAdjust="spacingAndGlyphs">84.9W</text>
<text x="509.5" y="840.9" textLength="45.7" lengthAdjust="spacingAndGlyphs">84.6W</text>
<text x="567.3" y="840.9" textLength="45.7" lengthAdjust="spacingAndGlyphs">84.3W</text>
<text x="632" y="840.9" textLength="31.8" lengthAdjust="spacingAndGlyphs">84W</text>
<text x="682.9" y="840.9" textLength="45.7" lengthAdjust="spacingAndGlyphs">83.7W</text>
<text x="740.6" y="840.9" textLength="45.7" lengthAdjust="spacingAndGlyphs">83.4W</text>
<text x="798.4" y="840.9" textLength="45.7" lengthAdjust="spacingAndGlyphs">83.1W</text>
<text x="856.3" y="840.9" textLength="45.7" lengthAdjust="spacingAndGlyphs">82.8W</text>
<text x="218" y="803.4" textLength="34.9" lengthAdjust="spacingAndGlyphs">8.1N</text>
<text x="218" y="736.1" textLength="34.9" lengthAdjust="spacingAndGlyphs">8.4N</text>
<text x="218" y="668.8" textLength="34.9" lengthAdjust="spacingAndGlyphs">8.7N</text>
<text x="232.4" y="601.4" textLength="20.5" lengthAdjust="spacingAndGlyphs">9N</text>
<text x="218" y="534.1" textLength="34.9" lengthAdjust="spacingAndGlyphs">9.3N</text>
<text x="218" y="466.8" textLength="34.9" lengthAdjust="spacingAndGlyphs">9.6N</text>
<text x="218" y="399.5" textLength="34.9" lengthAdjust="spacingAndGlyphs">9.9N</text>
<text x="209.4" y="332.2" textLength="43.5" lengthAdjust="spacingAndGlyphs">10.2N</text>
<text x="209.4" y="264.8" textLength="43.5" lengthAdjust="spacingAndGlyphs">10.5N</text>
<text x="209.4" y="197.5" textLength="43.5" lengthAdjust="spacingAndGlyphs">10.8N</text>
<text x="209.4" y="130.2" textLength="43.5" lengthAdjust="spacingAndGlyphs">11.1N</text>
</g>
<text class="ttl"><tspan x="131.6" y="31.2" textLength="49.2" lengthAdjust="spacingAndGlyphs">IMN</tspan><tspan x="183.1" y="38" font-size="46" stroke-width="2.3" textLength="20.1" lengthAdjust="spacingAndGlyphs">/</tspan><tspan x="203.6" y="31.2" textLength="147.1" lengthAdjust="spacingAndGlyphs">SARAPIQUI</tspan><tspan x="352.4" y="31.4" textLength="20.7" lengthAdjust="spacingAndGlyphs">_</tspan><tspan x="373.3" y="31.2" textLength="18.4" lengthAdjust="spacingAndGlyphs">5</tspan> <tspan x="409.8" y="31.2" textLength="189.6" lengthAdjust="spacingAndGlyphs">Precipitacion</tspan> <tspan x="617.3" y="31.2" textLength="161.4" lengthAdjust="spacingAndGlyphs">Acumulada</tspan> <tspan x="796" y="31.2" textLength="34.7" lengthAdjust="spacingAndGlyphs">en</tspan> <tspan x="848.5" y="31.2" textLength="18.9" lengthAdjust="spacingAndGlyphs">6</tspan> <tspan x="885.8" y="31.2" textLength="82.4" lengthAdjust="spacingAndGlyphs">horas</tspan> <tspan x="985" y="31.2" textLength="83.2" lengthAdjust="spacingAndGlyphs">(mm)</tspan></text>
<text class="ttl"><tspan x="461.6" y="62.4" textLength="74.7" lengthAdjust="spacingAndGlyphs">2025</tspan><tspan x="537.2" y="62.4" dy="-2.6" textLength="26.5" lengthAdjust="spacingAndGlyphs">-</tspan><tspan x="564.8" y="62.4" textLength="34.4" lengthAdjust="spacingAndGlyphs">10</tspan><tspan x="600.2" y="62.4" dy="-2.6" textLength="26.5" lengthAdjust="spacingAndGlyphs">-</tspan><tspan x="625.8" y="62.4" textLength="32.9" lengthAdjust="spacingAndGlyphs">01</tspan> <tspan x="681.5" y="62.4" textLength="55.9" lengthAdjust="spacingAndGlyphs">06Z</tspan></text>
<text class="ft"><tspan x="327" y="877.4" textLength="103.2" lengthAdjust="spacing">Instituto</tspan> <tspan x="445.7" y="877.4" textLength="173.9" lengthAdjust="spacing">Meteorologico</tspan> <tspan x="635.5" y="877.4" textLength="106.7" lengthAdjust="spacing">Nacional</tspan> <tspan x="758.2" y="877.4" textLength="70.7" lengthAdjust="spacing">Costa</tspan> <tspan x="844.9" y="877.4" textLength="53.3" lengthAdjust="spacing">Rica</tspan></text>
<g stroke="#000" stroke-width="1.3" stroke-linejoin="miter">
<rect x="1057.8" y="725.4" width="21.9" height="42.4" fill="#66ffff"/>
<rect x="1057.8" y="683" width="21.9" height="42.4" fill="#3399ff"/>
<rect x="1057.8" y="640.6" width="21.9" height="42.4" fill="#0000ff"/>
<rect x="1057.8" y="598.1" width="21.9" height="42.4" fill="#00ff00"/>
<rect x="1057.8" y="555.7" width="21.9" height="42.4" fill="#00cc00"/>
<rect x="1057.8" y="513.3" width="21.9" height="42.4" fill="#009900"/>
<rect x="1057.8" y="470.9" width="21.9" height="42.4" fill="#ffff00"/>
<rect x="1057.8" y="428.5" width="21.9" height="42.4" fill="#ffcc00"/>
<rect x="1057.8" y="386.1" width="21.9" height="42.4" fill="#ff6600"/>
<rect x="1057.8" y="343.7" width="21.9" height="42.4" fill="#ff0000"/>
<rect x="1057.8" y="301.3" width="21.9" height="42.4" fill="#cc3300"/>
<rect x="1057.8" y="258.8" width="21.9" height="42.4" fill="#a00000"/>
<rect x="1057.8" y="216.4" width="21.9" height="42.4" fill="#ff00ff"/>
<rect x="1057.8" y="174" width="21.9" height="42.4" fill="#9932cc"/>
<rect x="1057.8" y="131.6" width="21.9" height="42.4" fill="#f5f5f5"/>
<path d="M1057.8 767.8 L1068.8 809.2 L1079.7 767.8Z" fill="#fff"/>
<path d="M1057.8 131.6 L1068.8 90.4 L1079.7 131.6Z" fill="#aaaaaa"/>
</g>
<g class="cb">
<text x="1085.1" y="775.3" textLength="32.3" lengthAdjust="spacingAndGlyphs">3.5</text>
<text x="1086.2" y="732.9" textLength="11.7" lengthAdjust="spacingAndGlyphs">7</text>
<text x="1086.8" y="690.5" textLength="43.7" lengthAdjust="spacingAndGlyphs">12.5</text>
<text x="1086.8" y="648.1" textLength="24.4" lengthAdjust="spacingAndGlyphs">15</text>
<text x="1085.1" y="605.6" textLength="26.6" lengthAdjust="spacingAndGlyphs">20</text>
<text x="1085.1" y="563.2" textLength="26.6" lengthAdjust="spacingAndGlyphs">25</text>
<text x="1085.1" y="520.8" textLength="26.6" lengthAdjust="spacingAndGlyphs">30</text>
<text x="1085.1" y="478.4" textLength="26.6" lengthAdjust="spacingAndGlyphs">40</text>
<text x="1085.1" y="436" textLength="26.6" lengthAdjust="spacingAndGlyphs">50</text>
<text x="1085.1" y="393.6" textLength="26.6" lengthAdjust="spacingAndGlyphs">60</text>
<text x="1085.1" y="351.2" textLength="26.6" lengthAdjust="spacingAndGlyphs">75</text>
<text x="1085.1" y="308.8" textLength="26.6" lengthAdjust="spacingAndGlyphs">90</text>
<text x="1086.8" y="266.3" textLength="37.7" lengthAdjust="spacingAndGlyphs">100</text>
<text x="1086.8" y="223.9" textLength="37.7" lengthAdjust="spacingAndGlyphs">120</text>
<text x="1086.8" y="181.5" textLength="37.7" lengthAdjust="spacingAndGlyphs">150</text>
<text x="1085.1" y="139.1" textLength="39.4" lengthAdjust="spacingAndGlyphs">200</text>
</g>
</svg></body></html>
